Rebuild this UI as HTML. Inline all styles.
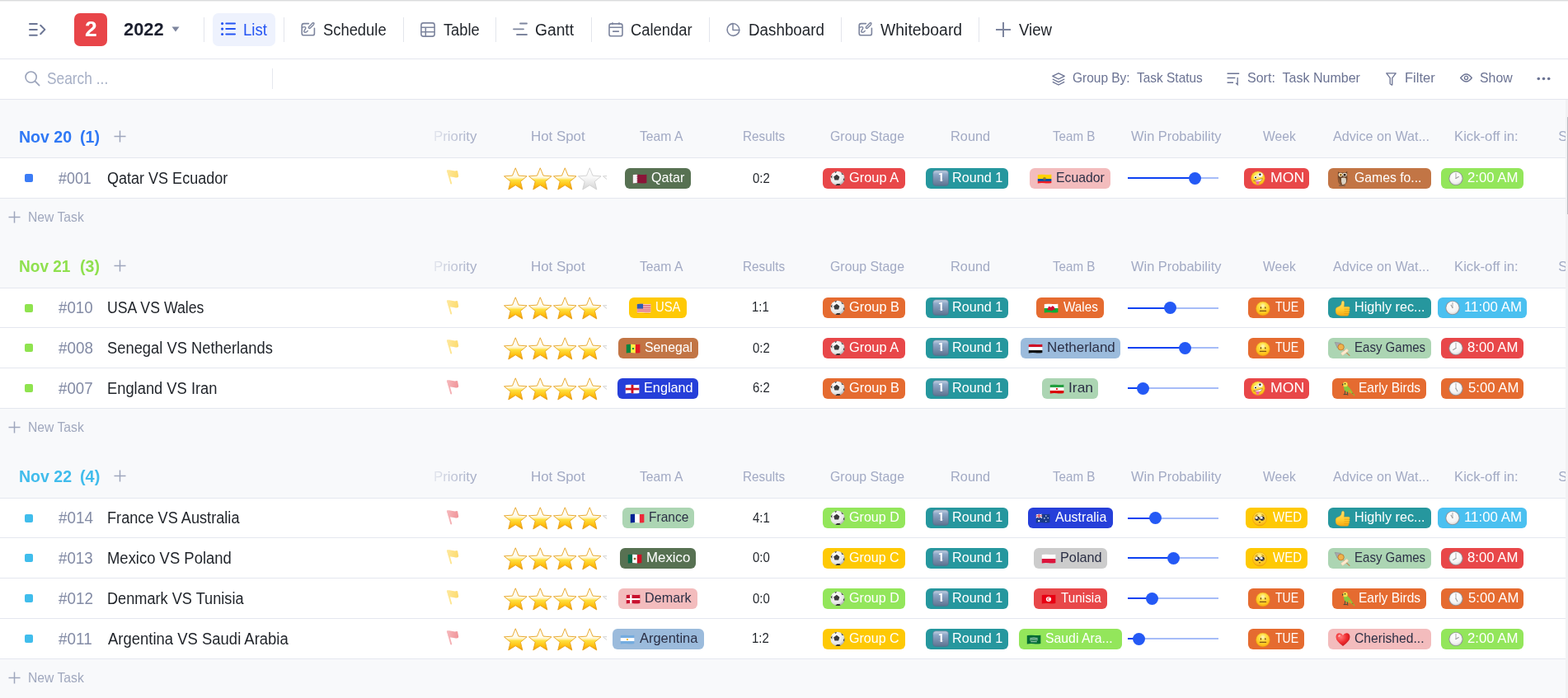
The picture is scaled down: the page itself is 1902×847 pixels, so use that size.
<!DOCTYPE html><html lang="en"><head><meta charset="utf-8"><title>2022 - List</title>
<style>
*{box-sizing:border-box;margin:0;padding:0}
html,body{width:1902px;height:847px;overflow:hidden;background:#f8f9fb;font-family:"Liberation Sans", "Noto Sans CJK SC", sans-serif;}
body{position:relative}
.abs{position:absolute}
svg{display:block}
#top{position:absolute;left:0;top:0;width:1902px;height:71px;background:#fff;}
#topline{position:absolute;left:0;top:0;width:1902px;height:2px;background:linear-gradient(#dadbdd 0,#dadbdd 50%,#f1f1f2 50%,#f1f1f2 100%);}
#navb{position:absolute;left:0;top:71px;width:1902px;height:1px;background:#e4e6ee}
#tool{position:absolute;left:0;top:72px;width:1902px;height:48px;background:#fff;}
#toolb{position:absolute;left:0;top:120px;width:1902px;height:1px;background:#e4e6ee}
.sep{position:absolute;top:21px;width:1px;height:30px;background:#e3e5ec}
.line{position:absolute;left:0;width:1899px;height:1px;background:#e4e7ef}
.row{position:absolute;left:0;width:1899px;background:#fff}
.sq{position:absolute;left:30px;width:10px;height:10px;border-radius:2px}
.pill{position:absolute;height:25px;border-radius:6px}
.pi{position:absolute;width:18px;height:18px}
.pi svg{overflow:visible}
.stars{position:absolute;left:611px;width:125px;height:28px;overflow:hidden}
.stars .st{position:absolute;top:0}
.trk{position:absolute;left:1368px;width:110px;height:2px;background:#a6bcf8}
.trka{position:absolute;left:1368px;height:2px;background:#0c41f2}
.thumb{position:absolute;width:15px;height:15px;border-radius:50%;background:#2459f5}
.fd{position:absolute;left:497px;width:82px;pointer-events:none}
.fh{background:linear-gradient(to right,rgba(248,249,251,1) 0%,rgba(248,249,251,0.85) 30%,rgba(248,249,251,0.4) 60%,rgba(248,249,251,0) 100%)}
.fr{background:linear-gradient(to right,rgba(255,255,255,1) 0%,rgba(255,255,255,0.85) 30%,rgba(255,255,255,0.4) 60%,rgba(255,255,255,0) 100%)}
#sb{position:absolute;left:1899px;top:121px;width:3px;height:726px;background:#f1f2f4}
#sbt{position:absolute;left:1900.5px;top:142px;width:1.5px;height:118px;background:#b9bbc0}
</style></head><body>
<div id="top">
<div id="topline"></div>
<svg class="abs" style="left:33px;top:26px" width="24" height="20" viewBox="0 0 24 20"><path d="M3,3.1 H11.8 M3,9.9 H11.8 M3,16.7 H11.8" stroke="#6b7594" stroke-width="2" stroke-linecap="round"/><path d="M16.2,4.8 L21.4,9.9 L16.2,15.2" stroke="#6b7594" stroke-width="2" fill="none" stroke-linecap="round" stroke-linejoin="round"/></svg>
<div class="abs" style="left:90px;top:16px;width:40px;height:40px;border-radius:7px;background:#e84549"></div>
<div style="position:absolute;left:102.67px;top:23.00px;font-size:25.58px;font-weight:bold;line-height:1;white-space:pre;transform-origin:0 0;transform:scaleX(1.0343);color:#fff;">2</div>
<div style="position:absolute;left:150.23px;top:25.00px;font-size:22.38px;font-weight:bold;line-height:1;white-space:pre;transform-origin:0 0;transform:scaleX(0.9778);color:#1b1f2e;">2022</div>
<svg class="abs" style="left:208px;top:32px" width="10" height="7" viewBox="0 0 10 7"><path d="M0.5,0.5 H9.5 L5,6.5 Z" fill="#7d859e"/></svg>
<div class="sep" style="left:247px"></div>
<div class="sep" style="left:344px"></div>
<div class="sep" style="left:489px"></div>
<div class="sep" style="left:601px"></div>
<div class="sep" style="left:717px"></div>
<div class="sep" style="left:860px"></div>
<div class="sep" style="left:1020px"></div>
<div class="sep" style="left:1187px"></div>
<div class="abs" style="left:258px;top:16px;width:76px;height:40px;border-radius:7px;background:#eef2fd"></div>
<div class="abs" style="left:268px;top:27px"><svg width="18" height="18" viewBox="0 0 18 18"><circle cx="1.6" cy="1.6" r="1.6" fill="#2454f3"/><circle cx="1.6" cy="8.1" r="1.6" fill="#2454f3"/><circle cx="1.6" cy="14.5" r="1.6" fill="#2454f3"/><path d="M6.3,1.6 H17 M6.3,8.1 H17 M6.3,14.5 H17" stroke="#2454f3" stroke-width="2" stroke-linecap="round"/></svg></div>
<div style="position:absolute;left:294.96px;top:27.00px;font-size:19.77px;line-height:1;white-space:pre;transform-origin:0 0;transform:scaleX(0.9427);color:#2454f3;">List</div>
<div class="abs" style="left:365px;top:27px"><svg width="18" height="18" viewBox="0 0 18 18"><path d="M9.4,1.6 H3.6 Q1.2,1.6 1.2,4 V13.4 Q1.2,15.8 3.6,15.8 H14.1 Q16.4,15.8 16.4,13.4 V7.2" stroke="#7d859e" stroke-width="1.6" fill="none" stroke-linecap="round"/><path d="M10.8,7.6 L15.2,3.2 Q16.4,1.6 15.6,0.9 Q14.9,0.3 13.6,1.4 L9.4,5.8 Q9,7.2 10.8,7.6 Z" stroke="#7d859e" stroke-width="1.4" fill="none"/><path d="M1.4,6.6 Q4.5,4.8 5.6,6.2 Q6.4,7.6 4.2,9.8 Q2.8,12 5,12.3 Q6.9,12.3 8.3,10.4" stroke="#7d859e" stroke-width="1.4" fill="none" stroke-linecap="round"/></svg></div>
<div style="position:absolute;left:392.47px;top:27.00px;font-size:19.77px;line-height:1;white-space:pre;transform-origin:0 0;transform:scaleX(0.9294);color:#1f2329;">Schedule</div>
<div class="abs" style="left:510px;top:27px"><svg width="18" height="18" viewBox="0 0 18 18"><rect x="0.9" y="0.9" width="16.2" height="16.2" rx="2.6" stroke="#7d859e" stroke-width="1.6" fill="none"/><path d="M0.9,6.3 H17.1 M0.9,11.7 H17.1 M6.3,6.3 V17.1" stroke="#7d859e" stroke-width="1.6"/></svg></div>
<div style="position:absolute;left:537.79px;top:27.00px;font-size:19.77px;line-height:1;white-space:pre;transform-origin:0 0;transform:scaleX(0.9226);color:#1f2329;">Table</div>
<div class="abs" style="left:622px;top:27px"><svg width="18" height="18" viewBox="0 0 18 18"><path d="M9,1.5 H17 M1,8.3 H13 M5,15 H17" stroke="#7d859e" stroke-width="1.8" stroke-linecap="round"/></svg></div>
<div style="position:absolute;left:649.44px;top:27.00px;font-size:19.77px;line-height:1;white-space:pre;transform-origin:0 0;transform:scaleX(0.9726);color:#1f2329;">Gantt</div>
<div class="abs" style="left:738px;top:27px"><svg width="18" height="18" viewBox="0 0 18 18"><rect x="1" y="1.9" width="16" height="14.9" rx="2.4" stroke="#7d859e" stroke-width="1.6" fill="none"/><path d="M1,6.3 H17 M5.1,11.1 H12.9 M5,0.3 V3 M13,0.3 V3" stroke="#7d859e" stroke-width="1.6"/></svg></div>
<div style="position:absolute;left:764.88px;top:27.00px;font-size:19.77px;line-height:1;white-space:pre;transform-origin:0 0;transform:scaleX(0.9288);color:#1f2329;">Calendar</div>
<div class="abs" style="left:881px;top:27px"><svg width="18" height="18" viewBox="0 0 18 18"><path d="M8,1.6 A7.4,7.4 0 1 0 15.9,9.5" stroke="#7d859e" stroke-width="1.6" fill="none"/><path d="M8,1.6 V9.5 H15.9 A7.9,7.9 0 0 0 8,1.6 Z" stroke="#7d859e" stroke-width="1.5" fill="none" stroke-linejoin="round"/></svg></div>
<div style="position:absolute;left:907.65px;top:27.00px;font-size:19.77px;line-height:1;white-space:pre;transform-origin:0 0;transform:scaleX(0.9510);color:#1f2329;">Dashboard</div>
<div class="abs" style="left:1041px;top:27px"><svg width="18" height="18" viewBox="0 0 18 18"><path d="M9.4,1.6 H3.6 Q1.2,1.6 1.2,4 V13.4 Q1.2,15.8 3.6,15.8 H14.1 Q16.4,15.8 16.4,13.4 V7.2" stroke="#7d859e" stroke-width="1.6" fill="none" stroke-linecap="round"/><path d="M10.8,7.6 L15.2,3.2 Q16.4,1.6 15.6,0.9 Q14.9,0.3 13.6,1.4 L9.4,5.8 Q9,7.2 10.8,7.6 Z" stroke="#7d859e" stroke-width="1.4" fill="none"/><path d="M1.4,6.6 Q4.5,4.8 5.6,6.2 Q6.4,7.6 4.2,9.8 Q2.8,12 5,12.3 Q6.9,12.3 8.3,10.4" stroke="#7d859e" stroke-width="1.4" fill="none" stroke-linecap="round"/></svg></div>
<div style="position:absolute;left:1068.20px;top:27.00px;font-size:19.77px;line-height:1;white-space:pre;transform-origin:0 0;transform:scaleX(0.9807);color:#1f2329;">Whiteboard</div>
<div class="abs" style="left:1208px;top:27px"><svg width="18" height="18" viewBox="0 0 18 18"><path d="M9,0 V18 M0,9 H18" stroke="#7d859e" stroke-width="2"/></svg></div>
<div style="position:absolute;left:1235.91px;top:27.00px;font-size:19.77px;line-height:1;white-space:pre;transform-origin:0 0;transform:scaleX(0.9423);color:#1f2329;">View</div>
</div>
<div id="navb"></div>
<div id="tool"></div>
<svg class="abs" style="left:30px;top:86px" width="19" height="19" viewBox="0 0 19 19"><circle cx="7.6" cy="7.6" r="6.6" stroke="#9aa3ba" stroke-width="1.6" fill="none"/><path d="M12.4,12.4 L17.6,17.6" stroke="#9aa3ba" stroke-width="1.7" stroke-linecap="round"/></svg>
<div style="position:absolute;left:57.42px;top:86.00px;font-size:19.48px;line-height:1;white-space:pre;transform-origin:0 0;transform:scaleX(0.8906);color:#a7b0c6;">Search ...</div>
<div class="abs" style="left:330px;top:83px;width:1px;height:25px;background:#e6e8ee"></div>
<svg class="abs" style="left:1276px;top:88px" width="16" height="16" viewBox="0 0 16 16"><path d="M8,0.8 L15.2,4.4 L8,8 L0.8,4.4 Z" stroke="#6b7393" stroke-width="1.3" fill="none" stroke-linejoin="round"/><path d="M0.8,8 L8,11.6 L15.2,8 M0.8,11.4 L8,15 L15.2,11.4" stroke="#6b7393" stroke-width="1.3" fill="none" stroke-linejoin="round"/></svg>
<div style="position:absolute;left:1300.63px;top:87.00px;font-size:15.99px;line-height:1;white-space:pre;transform-origin:0 0;transform:scaleX(0.9674);color:#6b7393;">Group By:  Task Status</div>
<svg class="abs" style="left:1488px;top:88px" width="16" height="16" viewBox="0 0 16 16"><path d="M0.6,1.2 H15.2 M0.6,6.6 H10.4 M0.6,12.2 H8" stroke="#6b7393" stroke-width="1.5"/><path d="M13.2,6 V14.6 L11.2,12.8" stroke="#6b7393" stroke-width="1.3" fill="none"/></svg>
<div style="position:absolute;left:1513.08px;top:87.00px;font-size:15.99px;line-height:1;white-space:pre;transform-origin:0 0;transform:scaleX(1.0031);color:#6b7393;">Sort:  Task Number</div>
<svg class="abs" style="left:1681px;top:87.5px" width="13" height="16" viewBox="0 0 13 16"><path d="M0.8,0.8 H12.2 L7.8,6.6 V14.6 Q7.8,15.4 7,15 L5.6,14 Q5.2,13.7 5.2,13.2 V6.6 Z" stroke="#6b7393" stroke-width="1.3" fill="none" stroke-linejoin="round"/></svg>
<div style="position:absolute;left:1704.24px;top:87.00px;font-size:15.99px;line-height:1;white-space:pre;transform-origin:0 0;transform:scaleX(1.0331);color:#6b7393;">Filter</div>
<svg class="abs" style="left:1771px;top:89px" width="15" height="11" viewBox="0 0 15 11"><path d="M0.7,5.5 Q7.5,-3.5 14.3,5.5 Q7.5,14.5 0.7,5.5 Z" stroke="#6b7393" stroke-width="1.3" fill="none"/><circle cx="7.5" cy="5.5" r="2.1" stroke="#6b7393" stroke-width="1.3" fill="none"/></svg>
<div style="position:absolute;left:1795.29px;top:87.00px;font-size:15.99px;line-height:1;white-space:pre;transform-origin:0 0;transform:scaleX(0.9916);color:#6b7393;">Show</div>
<svg class="abs" style="left:1864px;top:93px" width="17" height="5" viewBox="0 0 17 5"><circle cx="2.3" cy="2.5" r="1.8" fill="#6b7393"/><circle cx="8.5" cy="2.5" r="1.8" fill="#6b7393"/><circle cx="14.7" cy="2.5" r="1.8" fill="#6b7393"/></svg>
<div id="toolb"></div>
<div style="position:absolute;left:22.78px;top:156.00px;font-size:20.35px;font-weight:bold;line-height:1;white-space:pre;transform-origin:0 0;transform:scaleX(0.9596);color:#2f78f5;">Nov 20</div>
<div style="position:absolute;left:96.62px;top:156.00px;font-size:20.35px;font-weight:bold;line-height:1;white-space:pre;transform-origin:0 0;transform:scaleX(0.9675);color:#2f78f5;">(1)</div>
<div class="abs" style="left:138px;top:158.4px"><svg width="15" height="15" viewBox="0 0 15 15"><path d="M7.5,0.5 V14.5 M0.5,7.5 H14.5" stroke="#9ea6bd" stroke-width="1.5"/></svg></div>
<div style="position:absolute;left:525.61px;top:157.00px;font-size:16.28px;line-height:1;white-space:pre;transform-origin:0 0;transform:scaleX(1.0348);color:#a2aac4;">Priority</div>
<div style="position:absolute;left:643.71px;top:157.00px;font-size:16.28px;line-height:1;white-space:pre;transform-origin:0 0;transform:scaleX(1.0378);color:#a2aac4;">Hot Spot</div>
<div style="position:absolute;left:775.55px;top:157.00px;font-size:16.28px;line-height:1;white-space:pre;transform-origin:0 0;transform:scaleX(0.9669);color:#a2aac4;">Team A</div>
<div style="position:absolute;left:901.44px;top:157.00px;font-size:16.28px;line-height:1;white-space:pre;transform-origin:0 0;transform:scaleX(0.9412);color:#a2aac4;">Results</div>
<div style="position:absolute;left:1007.01px;top:157.00px;font-size:16.28px;line-height:1;white-space:pre;transform-origin:0 0;transform:scaleX(0.9758);color:#a2aac4;">Group Stage</div>
<div style="position:absolute;left:1152.65px;top:157.00px;font-size:16.28px;line-height:1;white-space:pre;transform-origin:0 0;transform:scaleX(1.0048);color:#a2aac4;">Round</div>
<div style="position:absolute;left:1276.66px;top:157.00px;font-size:16.28px;line-height:1;white-space:pre;transform-origin:0 0;transform:scaleX(0.9321);color:#a2aac4;">Team B</div>
<div style="position:absolute;left:1372.12px;top:157.00px;font-size:16.28px;line-height:1;white-space:pre;transform-origin:0 0;transform:scaleX(1.0087);color:#a2aac4;">Win Probability</div>
<div style="position:absolute;left:1532.12px;top:157.00px;font-size:16.28px;line-height:1;white-space:pre;transform-origin:0 0;transform:scaleX(0.9630);color:#a2aac4;">Week</div>
<div style="position:absolute;left:1617.36px;top:157.00px;font-size:16.28px;line-height:1;white-space:pre;transform-origin:0 0;transform:scaleX(0.9932);color:#a2aac4;">Advice on Wat...</div>
<div style="position:absolute;left:1763.62px;top:157.00px;font-size:16.28px;line-height:1;white-space:pre;transform-origin:0 0;transform:scaleX(1.0262);color:#a2aac4;">Kick-off in:</div>
<div style="position:absolute;left:1890.27px;top:157.00px;font-size:16.28px;line-height:1;white-space:pre;transform-origin:0 0;color:#a2aac4;">Stadium</div>
<div class="fd fh" style="top:141px;height:50px"></div>
<div class="line" style="top:191px"></div>
<div class="row" style="top:192px;height:48px"></div>
<div class="line" style="top:240px"></div>
<div class="sq" style="top:211.0px;background:#3b7cf6"></div>
<div style="position:absolute;left:70.91px;top:207.00px;font-size:19.77px;line-height:1;white-space:pre;transform-origin:0 0;transform:scaleX(0.9045);color:#838ba5;">#001</div>
<div style="position:absolute;left:130.44px;top:207.00px;font-size:19.77px;line-height:1;white-space:pre;transform-origin:0 0;transform:scaleX(0.9116);color:#1f2329;">Qatar VS Ecuador</div>
<div class="abs" style="left:540.5px;top:206.0px"><svg width="17" height="19" viewBox="0 0 17 19" ><defs><linearGradient id="pf1" x1="0" y1="0" x2="1" y2="0.3"><stop offset="0" stop-color="#fdd448"/><stop offset="1" stop-color="#fcce38"/></linearGradient></defs><path d="M2,1.2 L6.2,16.6" stroke="#fdd448" stroke-width="1.9" stroke-linecap="round"/><path d="M0.8,1.1 Q1.6,0.2 4,0.3 Q7,0.7 9.5,1.3 Q11.6,1.6 13.1,1 Q13.9,0.9 14.1,1.8 L15.2,7.6 Q15.4,9.2 13.6,9.6 Q11.4,9.5 9.2,8.9 Q6.4,8.3 3.4,8.7 Z" fill="url(#pf1)"/></svg></div>
<div class="stars" style="top:202.5px"><span class="st" style="left:0.0px"><svg width="28.6" height="28" viewBox="0 0 28.6 28" ><defs><linearGradient id="sg2" x1="0" y1="0" x2="0" y2="1"><stop offset="0" stop-color="#ffffff"/><stop offset="0.40" stop-color="#fffcee"/><stop offset="0.47" stop-color="#fff2bc"/><stop offset="0.56" stop-color="#ffe03e"/><stop offset="0.8" stop-color="#ffc010"/><stop offset="1" stop-color="#ef950a"/></linearGradient></defs><polygon points="14.30,0.80 18.06,10.12 28.09,10.82 20.39,17.28 22.82,27.03 14.30,21.70 5.78,27.03 8.21,17.28 0.51,10.82 10.54,10.12" fill="url(#sg2)" stroke="#e6a21c" stroke-width="0.9" stroke-linejoin="round"/></svg></span><span class="st" style="left:29.9px"><svg width="28.6" height="28" viewBox="0 0 28.6 28" ><defs><linearGradient id="sg3" x1="0" y1="0" x2="0" y2="1"><stop offset="0" stop-color="#ffffff"/><stop offset="0.40" stop-color="#fffcee"/><stop offset="0.47" stop-color="#fff2bc"/><stop offset="0.56" stop-color="#ffe03e"/><stop offset="0.8" stop-color="#ffc010"/><stop offset="1" stop-color="#ef950a"/></linearGradient></defs><polygon points="14.30,0.80 18.06,10.12 28.09,10.82 20.39,17.28 22.82,27.03 14.30,21.70 5.78,27.03 8.21,17.28 0.51,10.82 10.54,10.12" fill="url(#sg3)" stroke="#e6a21c" stroke-width="0.9" stroke-linejoin="round"/></svg></span><span class="st" style="left:59.8px"><svg width="28.6" height="28" viewBox="0 0 28.6 28" ><defs><linearGradient id="sg4" x1="0" y1="0" x2="0" y2="1"><stop offset="0" stop-color="#ffffff"/><stop offset="0.40" stop-color="#fffcee"/><stop offset="0.47" stop-color="#fff2bc"/><stop offset="0.56" stop-color="#ffe03e"/><stop offset="0.8" stop-color="#ffc010"/><stop offset="1" stop-color="#ef950a"/></linearGradient></defs><polygon points="14.30,0.80 18.06,10.12 28.09,10.82 20.39,17.28 22.82,27.03 14.30,21.70 5.78,27.03 8.21,17.28 0.51,10.82 10.54,10.12" fill="url(#sg4)" stroke="#e6a21c" stroke-width="0.9" stroke-linejoin="round"/></svg></span><span class="st" style="left:89.7px"><svg width="28.6" height="28" viewBox="0 0 28.6 28" ><defs><linearGradient id="sg5" x1="0" y1="0" x2="0" y2="1"><stop offset="0" stop-color="#ffffff"/><stop offset="0.45" stop-color="#f8f8f8"/><stop offset="1" stop-color="#d4d4d4"/></linearGradient></defs><polygon points="14.30,0.80 18.06,10.12 28.09,10.82 20.39,17.28 22.82,27.03 14.30,21.70 5.78,27.03 8.21,17.28 0.51,10.82 10.54,10.12" fill="url(#sg5)" stroke="#cfcfcf" stroke-width="0.9" stroke-linejoin="round"/></svg></span><span class="st" style="left:119.6px"><svg width="28.6" height="28" viewBox="0 0 28.6 28" ><defs><linearGradient id="sg6" x1="0" y1="0" x2="0" y2="1"><stop offset="0" stop-color="#ffffff"/><stop offset="0.45" stop-color="#f8f8f8"/><stop offset="1" stop-color="#d4d4d4"/></linearGradient></defs><polygon points="14.30,0.80 18.06,10.12 28.09,10.82 20.39,17.28 22.82,27.03 14.30,21.70 5.78,27.03 8.21,17.28 0.51,10.82 10.54,10.12" fill="url(#sg6)" stroke="#cfcfcf" stroke-width="0.9" stroke-linejoin="round"/></svg></span></div>
<div class="pill" style="left:758px;top:204px;width:80px;background:#577152"></div><div class="pi" style="left:767px;top:207.5px"><svg width="18" height="18" viewBox="0 0 18 18"><defs><clipPath id="fl7"><path d="M0,0.9 Q4.3,-0.1 8.6,0.5 Q12.9,1.1 17.2,0.1 L17.2,10.6 Q12.9,11.6 8.6,11 Q4.3,10.4 0,11.5 Z"/></clipPath></defs><g transform="translate(0.4,3.3)"><g clip-path="url(#fl7)"><g transform="scale(0.9556,0.8846)"><rect x="0" y="0" width="18" height="13" fill="#8a1538"/><path d="M0,0 L5,0 L6.5,1 L5,2 L6.5,3 L5,4 L6.5,5 L5,6 L6.5,7 L5,8 L6.5,9 L5,10 L6.5,11 L5,12 L6.5,13 L0,13 Z" fill="#f4f4f4"/></g></g></g></svg></div><div style="position:absolute;left:790.43px;top:208.00px;font-size:15.99px;line-height:1;white-space:pre;transform-origin:0 0;transform:scaleX(1.0084);color:#fff;">Qatar</div>
<div style="position:absolute;left:912.65px;top:208.00px;font-size:16.13px;line-height:1;white-space:pre;transform-origin:0 0;transform:scaleX(0.9300);color:#1f2329;">0:2</div>
<div class="pill" style="left:998px;top:204px;width:100px;background:#e84749"></div><div class="pi" style="left:1007px;top:207.5px"><svg width="18" height="18" viewBox="0 0 18 18" ><defs><radialGradient id="sb8" cx="0.4" cy="0.35" r="0.7"><stop offset="0" stop-color="#ffffff"/><stop offset="0.7" stop-color="#e6e6e6"/><stop offset="1" stop-color="#a9a9a9"/></radialGradient></defs><g transform="translate(0,-0.6)"><circle cx="9" cy="9" r="8.6" fill="url(#sb8)"/><polygon points="7.8,4.4 11.4,7 10.1,11.2 5.5,11.2 4.2,7" fill="#3a3a3a"/><path d="M5.2,1.4 L8,0.5 L6.8,2.6 Z M13.2,1.6 L16.2,4.4 L14.5,4.6 Z M0.7,7.2 L2.4,5 L2.3,9.3 Z M17.4,7.8 L17.2,12 L15.8,10.6 Z M6.3,17.1 L8.6,15.6 L11.6,15.6 L12.6,17 Q9,18.3 6.3,17.1 Z" fill="#333"/></g></svg></div><div style="position:absolute;left:1030.38px;top:208.00px;font-size:15.99px;line-height:1;white-space:pre;transform-origin:0 0;transform:scaleX(1.0253);color:#fff;">Group A</div>
<div class="pill" style="left:1123px;top:204px;width:100px;background:#26979e"></div><div class="pi" style="left:1132px;top:207.5px"><svg width="18" height="18" viewBox="0 0 18 18" ><defs><linearGradient id="kc9" x1="0" y1="0" x2="0" y2="1"><stop offset="0" stop-color="#c6d3e3"/><stop offset="0.25" stop-color="#8fa8c8"/><stop offset="1" stop-color="#5d7390"/></linearGradient></defs><g transform="translate(0,-1)"><rect x="-0.4" y="-0.2" width="19" height="18.6" rx="3.6" fill="url(#kc9)" stroke="#56698a" stroke-width="0.5"/><clipPath id="kc9c"><rect x="0" y="0" width="18" height="11.2"/><rect x="8.7" y="0" width="2.4" height="15"/></clipPath><text x="9.4" y="13.4" text-anchor="middle" clip-path="url(#kc9c)" font-family="Noto Sans CJK SC, Liberation Sans, sans-serif" font-weight="bold" font-size="13.6" fill="#fff">1</text></g></svg></div><div style="position:absolute;left:1154.86px;top:208.00px;font-size:15.99px;line-height:1;white-space:pre;transform-origin:0 0;transform:scaleX(1.0161);color:#fff;">Round 1</div>
<div class="pill" style="left:1249px;top:204px;width:98px;background:#f3bcbd"></div><div class="pi" style="left:1258px;top:207.5px"><svg width="18" height="18" viewBox="0 0 18 18"><defs><clipPath id="fl10"><path d="M0,0.9 Q4.3,-0.1 8.6,0.5 Q12.9,1.1 17.2,0.1 L17.2,10.6 Q12.9,11.6 8.6,11 Q4.3,10.4 0,11.5 Z"/></clipPath></defs><g transform="translate(0.4,3.3)"><g clip-path="url(#fl10)"><g transform="scale(0.9556,0.8846)"><rect x="0" y="0" width="18" height="6.5" fill="#ffd100"/><rect x="0" y="6.5" width="18" height="3.25" fill="#034ea2"/><rect x="0" y="9.75" width="18" height="3.25" fill="#ed1c24"/><ellipse cx="9" cy="6.5" rx="2" ry="2.4" fill="#7a6a3a" opacity="0.8"/></g></g></g></svg></div><div style="position:absolute;left:1280.90px;top:208.00px;font-size:15.99px;line-height:1;white-space:pre;transform-origin:0 0;transform:scaleX(0.9880);color:#2b2f45;">Ecuador</div>
<div class="trk" style="top:215.0px"></div>
<div class="trka" style="top:215.0px;width:81.4px"></div>
<div class="thumb" style="left:1441.9px;top:208.8px"></div>
<div class="pill" style="left:1509px;top:204px;width:79px;background:#e84749"></div><div class="pi" style="left:1518px;top:207.5px"><svg width="18" height="18" viewBox="0 0 18 18" ><g transform="translate(-1,-1.1)"><defs><radialGradient id="fc11" cx="0.5" cy="0.3" r="0.75"><stop offset="0" stop-color="#fff6c2"/><stop offset="0.3" stop-color="#ffe04a"/><stop offset="0.75" stop-color="#ffc21c"/><stop offset="1" stop-color="#f29a0c"/></radialGradient></defs><circle cx="8.9" cy="9.4" r="8.4" fill="url(#fc11)" stroke="#e4960e" stroke-width="0.5"/><ellipse cx="5.8" cy="8.3" rx="1.8" ry="2.1" fill="#fff"/><circle cx="6" cy="8.7" r="1" fill="#222"/><ellipse cx="11.9" cy="5.4" rx="2.8" ry="2.7" fill="#fff" stroke="#c8c8c8" stroke-width="0.3"/><circle cx="11.4" cy="4.9" r="1.2" fill="#222"/><path d="M3.6,12.4 Q9,11.8 14.3,9.6 Q13,14.2 8.6,13.9 Z" fill="#fff" stroke="#7a4008" stroke-width="0.5"/><path d="M6.6,13.1 L10.4,12.9 L10.3,16.4 Q8.6,17.8 6.9,16.3 Z" fill="#f26aa8"/></g></svg></div><div style="position:absolute;left:1540.74px;top:208.00px;font-size:15.99px;line-height:1;white-space:pre;transform-origin:0 0;transform:scaleX(1.1052);color:#fff;">MON</div>
<div class="pill" style="left:1611px;top:204px;width:125px;background:#c27545"></div><div class="pi" style="left:1620px;top:207.5px"><svg width="18" height="18" viewBox="0 0 18 18" ><path d="M3,0.2 L5,1.4 L12,1.4 L14.2,-0.2 L14.3,5 Q14.8,9.5 13.8,12.8 Q12.6,16 9,16.6 Q5.4,16.6 3.8,13.4 Q2.4,10 2.8,5 Z" fill="#6b4428"/><path d="M7,8 Q10,6.8 12.6,8.2 Q13.6,11.6 12.2,14.6 Q10.4,16.4 8,16 Q6.4,12 7,8 Z" fill="#dcd2c2"/><path d="M2.9,7 Q5.2,8.6 6.6,12.4 Q7,15.2 5.8,16 Q3.6,14.6 3,11.6 Z" fill="#8a5530"/><ellipse cx="6.2" cy="4.1" rx="2.6" ry="2.3" fill="#efe7da"/><ellipse cx="11.2" cy="4.1" rx="2.6" ry="2.3" fill="#efe7da"/><circle cx="6.3" cy="4.2" r="1.45" fill="#e8a21c"/><circle cx="11.1" cy="4.2" r="1.45" fill="#3a2412"/><circle cx="6.3" cy="4.2" r="0.75" fill="#1a1a1a"/><circle cx="11.1" cy="4.2" r="0.75" fill="#111"/><path d="M8.1,5.6 L9.3,5.6 L8.7,7 Z" fill="#4a3a30"/><path d="M4.6,17.2 L11.4,17.2" stroke="#4d4d4d" stroke-width="0.9" stroke-linecap="round"/></svg></div><div style="position:absolute;left:1643.41px;top:208.00px;font-size:15.99px;line-height:1;white-space:pre;transform-origin:0 0;transform:scaleX(0.9865);color:#fff;">Games fo...</div>
<div class="pill" style="left:1748px;top:204px;width:100px;background:#93e65b"></div><div class="pi" style="left:1757px;top:207.5px"><svg width="18" height="18" viewBox="0 0 18 18" ><defs><radialGradient id="ck12" cx="0.45" cy="0.3" r="0.75"><stop offset="0" stop-color="#ffffff"/><stop offset="0.7" stop-color="#f3f3f3"/><stop offset="1" stop-color="#d2d2d2"/></radialGradient></defs><g transform="translate(0,-0.7)"><circle cx="9" cy="9.2" r="8.6" fill="#8e8e94"/><circle cx="9" cy="9.2" r="7.7" fill="url(#ck12)"/><line x1="9" y1="9.2" x2="9" y2="3" stroke="#a8a8a8" stroke-width="1" stroke-linecap="round"/><line x1="9" y1="9.2" x2="12.29" y2="7.30" stroke="#a0a0a0" stroke-width="1.2" stroke-linecap="round"/></g></svg></div><div style="position:absolute;left:1780.36px;top:208.00px;font-size:15.99px;line-height:1;white-space:pre;transform-origin:0 0;transform:scaleX(1.0492);color:#fff;">2:00 AM</div>
<div class="fd fr" style="top:192px;height:48px"></div>
<div class="abs" style="left:10px;top:256px"><svg width="15" height="15" viewBox="0 0 15 15"><path d="M7.5,0.5 V14.5 M0.5,7.5 H14.5" stroke="#9ea6bd" stroke-width="1.5"/></svg></div>
<div style="position:absolute;left:34.10px;top:255.00px;font-size:16.28px;line-height:1;white-space:pre;transform-origin:0 0;transform:scaleX(0.9660);color:#a0a8be;">New Task</div>
<div style="position:absolute;left:22.81px;top:313.00px;font-size:20.35px;font-weight:bold;line-height:1;white-space:pre;transform-origin:0 0;transform:scaleX(0.9358);color:#8fe04e;">Nov 21</div>
<div style="position:absolute;left:96.72px;top:313.00px;font-size:20.35px;font-weight:bold;line-height:1;white-space:pre;transform-origin:0 0;transform:scaleX(0.9632);color:#8fe04e;">(3)</div>
<div class="abs" style="left:138px;top:315.4px"><svg width="15" height="15" viewBox="0 0 15 15"><path d="M7.5,0.5 V14.5 M0.5,7.5 H14.5" stroke="#9ea6bd" stroke-width="1.5"/></svg></div>
<div style="position:absolute;left:525.61px;top:315.00px;font-size:16.28px;line-height:1;white-space:pre;transform-origin:0 0;transform:scaleX(1.0348);color:#a2aac4;">Priority</div>
<div style="position:absolute;left:643.71px;top:315.00px;font-size:16.28px;line-height:1;white-space:pre;transform-origin:0 0;transform:scaleX(1.0378);color:#a2aac4;">Hot Spot</div>
<div style="position:absolute;left:775.55px;top:315.00px;font-size:16.28px;line-height:1;white-space:pre;transform-origin:0 0;transform:scaleX(0.9669);color:#a2aac4;">Team A</div>
<div style="position:absolute;left:901.44px;top:315.00px;font-size:16.28px;line-height:1;white-space:pre;transform-origin:0 0;transform:scaleX(0.9412);color:#a2aac4;">Results</div>
<div style="position:absolute;left:1007.01px;top:315.00px;font-size:16.28px;line-height:1;white-space:pre;transform-origin:0 0;transform:scaleX(0.9758);color:#a2aac4;">Group Stage</div>
<div style="position:absolute;left:1152.65px;top:315.00px;font-size:16.28px;line-height:1;white-space:pre;transform-origin:0 0;transform:scaleX(1.0048);color:#a2aac4;">Round</div>
<div style="position:absolute;left:1276.66px;top:315.00px;font-size:16.28px;line-height:1;white-space:pre;transform-origin:0 0;transform:scaleX(0.9321);color:#a2aac4;">Team B</div>
<div style="position:absolute;left:1372.12px;top:315.00px;font-size:16.28px;line-height:1;white-space:pre;transform-origin:0 0;transform:scaleX(1.0087);color:#a2aac4;">Win Probability</div>
<div style="position:absolute;left:1532.12px;top:315.00px;font-size:16.28px;line-height:1;white-space:pre;transform-origin:0 0;transform:scaleX(0.9630);color:#a2aac4;">Week</div>
<div style="position:absolute;left:1617.36px;top:315.00px;font-size:16.28px;line-height:1;white-space:pre;transform-origin:0 0;transform:scaleX(0.9932);color:#a2aac4;">Advice on Wat...</div>
<div style="position:absolute;left:1763.62px;top:315.00px;font-size:16.28px;line-height:1;white-space:pre;transform-origin:0 0;transform:scaleX(1.0262);color:#a2aac4;">Kick-off in:</div>
<div style="position:absolute;left:1890.27px;top:315.00px;font-size:16.28px;line-height:1;white-space:pre;transform-origin:0 0;color:#a2aac4;">Stadium</div>
<div class="fd fh" style="top:299px;height:50px"></div>
<div class="line" style="top:349px"></div>
<div class="row" style="top:350px;height:47px"></div>
<div class="line" style="top:397px"></div>
<div class="sq" style="top:368.5px;background:#8fe34f"></div>
<div style="position:absolute;left:70.91px;top:364.00px;font-size:19.77px;line-height:1;white-space:pre;transform-origin:0 0;transform:scaleX(0.9468);color:#838ba5;">#010</div>
<div style="position:absolute;left:129.93px;top:364.00px;font-size:19.77px;line-height:1;white-space:pre;transform-origin:0 0;transform:scaleX(0.8962);color:#1f2329;">USA VS Wales</div>
<div class="abs" style="left:540.5px;top:363.5px"><svg width="17" height="19" viewBox="0 0 17 19" ><defs><linearGradient id="pf13" x1="0" y1="0" x2="1" y2="0.3"><stop offset="0" stop-color="#fdd448"/><stop offset="1" stop-color="#fcce38"/></linearGradient></defs><path d="M2,1.2 L6.2,16.6" stroke="#fdd448" stroke-width="1.9" stroke-linecap="round"/><path d="M0.8,1.1 Q1.6,0.2 4,0.3 Q7,0.7 9.5,1.3 Q11.6,1.6 13.1,1 Q13.9,0.9 14.1,1.8 L15.2,7.6 Q15.4,9.2 13.6,9.6 Q11.4,9.5 9.2,8.9 Q6.4,8.3 3.4,8.7 Z" fill="url(#pf13)"/></svg></div>
<div class="stars" style="top:360.0px"><span class="st" style="left:0.0px"><svg width="28.6" height="28" viewBox="0 0 28.6 28" ><defs><linearGradient id="sg14" x1="0" y1="0" x2="0" y2="1"><stop offset="0" stop-color="#ffffff"/><stop offset="0.40" stop-color="#fffcee"/><stop offset="0.47" stop-color="#fff2bc"/><stop offset="0.56" stop-color="#ffe03e"/><stop offset="0.8" stop-color="#ffc010"/><stop offset="1" stop-color="#ef950a"/></linearGradient></defs><polygon points="14.30,0.80 18.06,10.12 28.09,10.82 20.39,17.28 22.82,27.03 14.30,21.70 5.78,27.03 8.21,17.28 0.51,10.82 10.54,10.12" fill="url(#sg14)" stroke="#e6a21c" stroke-width="0.9" stroke-linejoin="round"/></svg></span><span class="st" style="left:29.9px"><svg width="28.6" height="28" viewBox="0 0 28.6 28" ><defs><linearGradient id="sg15" x1="0" y1="0" x2="0" y2="1"><stop offset="0" stop-color="#ffffff"/><stop offset="0.40" stop-color="#fffcee"/><stop offset="0.47" stop-color="#fff2bc"/><stop offset="0.56" stop-color="#ffe03e"/><stop offset="0.8" stop-color="#ffc010"/><stop offset="1" stop-color="#ef950a"/></linearGradient></defs><polygon points="14.30,0.80 18.06,10.12 28.09,10.82 20.39,17.28 22.82,27.03 14.30,21.70 5.78,27.03 8.21,17.28 0.51,10.82 10.54,10.12" fill="url(#sg15)" stroke="#e6a21c" stroke-width="0.9" stroke-linejoin="round"/></svg></span><span class="st" style="left:59.8px"><svg width="28.6" height="28" viewBox="0 0 28.6 28" ><defs><linearGradient id="sg16" x1="0" y1="0" x2="0" y2="1"><stop offset="0" stop-color="#ffffff"/><stop offset="0.40" stop-color="#fffcee"/><stop offset="0.47" stop-color="#fff2bc"/><stop offset="0.56" stop-color="#ffe03e"/><stop offset="0.8" stop-color="#ffc010"/><stop offset="1" stop-color="#ef950a"/></linearGradient></defs><polygon points="14.30,0.80 18.06,10.12 28.09,10.82 20.39,17.28 22.82,27.03 14.30,21.70 5.78,27.03 8.21,17.28 0.51,10.82 10.54,10.12" fill="url(#sg16)" stroke="#e6a21c" stroke-width="0.9" stroke-linejoin="round"/></svg></span><span class="st" style="left:89.7px"><svg width="28.6" height="28" viewBox="0 0 28.6 28" ><defs><linearGradient id="sg17" x1="0" y1="0" x2="0" y2="1"><stop offset="0" stop-color="#ffffff"/><stop offset="0.40" stop-color="#fffcee"/><stop offset="0.47" stop-color="#fff2bc"/><stop offset="0.56" stop-color="#ffe03e"/><stop offset="0.8" stop-color="#ffc010"/><stop offset="1" stop-color="#ef950a"/></linearGradient></defs><polygon points="14.30,0.80 18.06,10.12 28.09,10.82 20.39,17.28 22.82,27.03 14.30,21.70 5.78,27.03 8.21,17.28 0.51,10.82 10.54,10.12" fill="url(#sg17)" stroke="#e6a21c" stroke-width="0.9" stroke-linejoin="round"/></svg></span><span class="st" style="left:119.6px"><svg width="28.6" height="28" viewBox="0 0 28.6 28" ><defs><linearGradient id="sg18" x1="0" y1="0" x2="0" y2="1"><stop offset="0" stop-color="#ffffff"/><stop offset="0.45" stop-color="#f8f8f8"/><stop offset="1" stop-color="#d4d4d4"/></linearGradient></defs><polygon points="14.30,0.80 18.06,10.12 28.09,10.82 20.39,17.28 22.82,27.03 14.30,21.70 5.78,27.03 8.21,17.28 0.51,10.82 10.54,10.12" fill="url(#sg18)" stroke="#cfcfcf" stroke-width="0.9" stroke-linejoin="round"/></svg></span></div>
<div class="pill" style="left:763px;top:361px;width:70px;background:#fec904"></div><div class="pi" style="left:772px;top:364.5px"><svg width="18" height="18" viewBox="0 0 18 18"><defs><clipPath id="fl19"><path d="M0,0.9 Q4.3,-0.1 8.6,0.5 Q12.9,1.1 17.2,0.1 L17.2,10.6 Q12.9,11.6 8.6,11 Q4.3,10.4 0,11.5 Z"/></clipPath></defs><g transform="translate(0.4,3.3)"><g clip-path="url(#fl19)"><g transform="scale(0.9556,0.8846)"><rect x="0" y="0" width="18" height="13" fill="#ffffff"/><rect x="0" y="0.0" width="18" height="1.0" fill="#d42a36"/><rect x="0" y="2.0" width="18" height="1.0" fill="#d42a36"/><rect x="0" y="4.0" width="18" height="1.0" fill="#d42a36"/><rect x="0" y="6.0" width="18" height="1.0" fill="#d42a36"/><rect x="0" y="8.0" width="18" height="1.0" fill="#d42a36"/><rect x="0" y="10.0" width="18" height="1.0" fill="#d42a36"/><rect x="0" y="12.0" width="18" height="1.0" fill="#d42a36"/><rect x="0" y="0" width="8" height="7" fill="#2d5db5"/></g></g></g></svg></div><div style="position:absolute;left:795.05px;top:365.00px;font-size:15.99px;line-height:1;white-space:pre;transform-origin:0 0;transform:scaleX(0.9267);color:#fff;">USA</div>
<div style="position:absolute;left:912.12px;top:364.00px;font-size:16.13px;line-height:1;white-space:pre;transform-origin:0 0;transform:scaleX(0.9300);color:#1f2329;">1:1</div>
<div class="pill" style="left:998px;top:361px;width:100px;background:#e56b30"></div><div class="pi" style="left:1007px;top:364.5px"><svg width="18" height="18" viewBox="0 0 18 18" ><defs><radialGradient id="sb20" cx="0.4" cy="0.35" r="0.7"><stop offset="0" stop-color="#ffffff"/><stop offset="0.7" stop-color="#e6e6e6"/><stop offset="1" stop-color="#a9a9a9"/></radialGradient></defs><g transform="translate(0,-0.6)"><circle cx="9" cy="9" r="8.6" fill="url(#sb20)"/><polygon points="7.8,4.4 11.4,7 10.1,11.2 5.5,11.2 4.2,7" fill="#3a3a3a"/><path d="M5.2,1.4 L8,0.5 L6.8,2.6 Z M13.2,1.6 L16.2,4.4 L14.5,4.6 Z M0.7,7.2 L2.4,5 L2.3,9.3 Z M17.4,7.8 L17.2,12 L15.8,10.6 Z M6.3,17.1 L8.6,15.6 L11.6,15.6 L12.6,17 Q9,18.3 6.3,17.1 Z" fill="#333"/></g></svg></div><div style="position:absolute;left:1030.38px;top:365.00px;font-size:15.99px;line-height:1;white-space:pre;transform-origin:0 0;transform:scaleX(1.0239);color:#fff;">Group B</div>
<div class="pill" style="left:1123px;top:361px;width:100px;background:#26979e"></div><div class="pi" style="left:1132px;top:364.5px"><svg width="18" height="18" viewBox="0 0 18 18" ><defs><linearGradient id="kc21" x1="0" y1="0" x2="0" y2="1"><stop offset="0" stop-color="#c6d3e3"/><stop offset="0.25" stop-color="#8fa8c8"/><stop offset="1" stop-color="#5d7390"/></linearGradient></defs><g transform="translate(0,-1)"><rect x="-0.4" y="-0.2" width="19" height="18.6" rx="3.6" fill="url(#kc21)" stroke="#56698a" stroke-width="0.5"/><clipPath id="kc21c"><rect x="0" y="0" width="18" height="11.2"/><rect x="8.7" y="0" width="2.4" height="15"/></clipPath><text x="9.4" y="13.4" text-anchor="middle" clip-path="url(#kc21c)" font-family="Noto Sans CJK SC, Liberation Sans, sans-serif" font-weight="bold" font-size="13.6" fill="#fff">1</text></g></svg></div><div style="position:absolute;left:1154.86px;top:365.00px;font-size:15.99px;line-height:1;white-space:pre;transform-origin:0 0;transform:scaleX(1.0161);color:#fff;">Round 1</div>
<div class="pill" style="left:1257px;top:361px;width:82px;background:#e56b30"></div><div class="pi" style="left:1266px;top:364.5px"><svg width="18" height="18" viewBox="0 0 18 18"><defs><clipPath id="fl22"><path d="M0,0.9 Q4.3,-0.1 8.6,0.5 Q12.9,1.1 17.2,0.1 L17.2,10.6 Q12.9,11.6 8.6,11 Q4.3,10.4 0,11.5 Z"/></clipPath></defs><g transform="translate(0.4,3.3)"><g clip-path="url(#fl22)"><g transform="scale(0.9556,0.8846)"><rect x="0" y="0" width="18" height="6.5" fill="#ffffff"/><rect x="0" y="6.5" width="18" height="6.5" fill="#00ad36"/><path d="M4,9 L6,4 L9,5 L11,3 L13,5 L14,9 L12,8 L10,10 L7,9 Z" fill="#d30731"/></g></g></g></svg></div><div style="position:absolute;left:1290.12px;top:365.00px;font-size:15.99px;line-height:1;white-space:pre;transform-origin:0 0;transform:scaleX(0.9558);color:#fff;">Wales</div>
<div class="trk" style="top:372.5px"></div>
<div class="trka" style="top:372.5px;width:51.4px"></div>
<div class="thumb" style="left:1411.9px;top:366.3px"></div>
<div class="pill" style="left:1514px;top:361px;width:68px;background:#e56b30"></div><div class="pi" style="left:1523px;top:364.5px"><svg width="18" height="18" viewBox="0 0 18 18" ><g transform="translate(0,0.1)"><defs><radialGradient id="fc23" cx="0.5" cy="0.3" r="0.75"><stop offset="0" stop-color="#fff6c2"/><stop offset="0.3" stop-color="#ffe04a"/><stop offset="0.75" stop-color="#ffc21c"/><stop offset="1" stop-color="#f29a0c"/></radialGradient></defs><circle cx="8.9" cy="9.4" r="8.4" fill="url(#fc23)" stroke="#e4960e" stroke-width="0.5"/><path d="M6.2,6.9 Q7.2,7 7.1,8.6 Q6.9,9.7 6.1,9.4 Q5.6,8.2 6.2,6.9 Z" fill="#5a2e0c"/><path d="M11.6,6.9 Q12.6,7 12.5,8.6 Q12.3,9.7 11.5,9.4 Q11,8.2 11.6,6.9 Z" fill="#5a2e0c"/><rect x="4.8" y="11.6" width="8.4" height="1.1" rx="0.5" fill="#5a2e0c"/></g></svg></div><div style="position:absolute;left:1546.88px;top:365.00px;font-size:15.99px;line-height:1;white-space:pre;transform-origin:0 0;transform:scaleX(0.8824);color:#fff;">TUE</div>
<div class="pill" style="left:1611px;top:361px;width:125px;background:#26979e"></div><div class="pi" style="left:1620px;top:364.5px"><svg width="18" height="19" viewBox="0 0 18 19" ><defs><linearGradient id="th24" x1="0" y1="0" x2="0" y2="1"><stop offset="0" stop-color="#ffe070"/><stop offset="0.6" stop-color="#ffcc2e"/><stop offset="1" stop-color="#f5a814"/></linearGradient></defs><path d="M0.2,10.2 Q0.4,8 2.9,7.5 Q5.4,6.9 6.9,4.6 L7.5,1.3 Q8.1,-0.1 9.5,0.3 Q10.8,0.8 10.6,2.9 L10.3,7.2 L15.6,7.2 Q17.4,7.4 17.3,8.8 Q17.2,9.9 16.3,10.1 Q17.3,10.5 17.2,11.8 Q17,12.8 16.1,12.9 Q17,13.4 16.8,14.6 Q16.5,15.5 15.6,15.6 Q16.2,16.2 15.8,17.2 Q15.3,18.2 14,18.2 L7.5,18.3 Q5.5,18.4 3.8,17.5 Q0.3,16.6 0.2,13 Z" fill="url(#th24)" stroke="#e8a010" stroke-width="0.4"/><path d="M10.6,10.1 H16.2 M10.5,12.9 H16 M10.4,15.6 H15.5" stroke="#e39a0e" stroke-width="0.7"/></svg></div><div style="position:absolute;left:1642.86px;top:365.00px;font-size:15.99px;line-height:1;white-space:pre;transform-origin:0 0;transform:scaleX(1.0140);color:#fff;">Highly rec...</div>
<div class="pill" style="left:1744px;top:361px;width:108px;background:#4ac0f0"></div><div class="pi" style="left:1753px;top:364.5px"><svg width="18" height="18" viewBox="0 0 18 18" ><defs><radialGradient id="ck25" cx="0.45" cy="0.3" r="0.75"><stop offset="0" stop-color="#ffffff"/><stop offset="0.7" stop-color="#f3f3f3"/><stop offset="1" stop-color="#d2d2d2"/></radialGradient></defs><g transform="translate(0,-0.7)"><circle cx="9" cy="9.2" r="8.6" fill="#8e8e94"/><circle cx="9" cy="9.2" r="7.7" fill="url(#ck25)"/><line x1="9" y1="9.2" x2="9" y2="3" stroke="#a8a8a8" stroke-width="1" stroke-linecap="round"/><line x1="9" y1="9.2" x2="7.10" y2="5.91" stroke="#a0a0a0" stroke-width="1.2" stroke-linecap="round"/></g></svg></div><div style="position:absolute;left:1775.94px;top:365.00px;font-size:15.99px;line-height:1;white-space:pre;transform-origin:0 0;transform:scaleX(1.0543);color:#fff;">11:00 AM</div>
<div class="fd fr" style="top:350px;height:47px"></div>
<div class="row" style="top:398px;height:48px"></div>
<div class="line" style="top:446px"></div>
<div class="sq" style="top:417.0px;background:#8fe34f"></div>
<div style="position:absolute;left:70.91px;top:413.00px;font-size:19.77px;line-height:1;white-space:pre;transform-origin:0 0;transform:scaleX(0.9536);color:#838ba5;">#008</div>
<div style="position:absolute;left:130.47px;top:413.00px;font-size:19.77px;line-height:1;white-space:pre;transform-origin:0 0;transform:scaleX(0.9278);color:#1f2329;">Senegal VS Netherlands</div>
<div class="abs" style="left:540.5px;top:412.0px"><svg width="17" height="19" viewBox="0 0 17 19" ><defs><linearGradient id="pf26" x1="0" y1="0" x2="1" y2="0.3"><stop offset="0" stop-color="#fdd448"/><stop offset="1" stop-color="#fcce38"/></linearGradient></defs><path d="M2,1.2 L6.2,16.6" stroke="#fdd448" stroke-width="1.9" stroke-linecap="round"/><path d="M0.8,1.1 Q1.6,0.2 4,0.3 Q7,0.7 9.5,1.3 Q11.6,1.6 13.1,1 Q13.9,0.9 14.1,1.8 L15.2,7.6 Q15.4,9.2 13.6,9.6 Q11.4,9.5 9.2,8.9 Q6.4,8.3 3.4,8.7 Z" fill="url(#pf26)"/></svg></div>
<div class="stars" style="top:408.5px"><span class="st" style="left:0.0px"><svg width="28.6" height="28" viewBox="0 0 28.6 28" ><defs><linearGradient id="sg27" x1="0" y1="0" x2="0" y2="1"><stop offset="0" stop-color="#ffffff"/><stop offset="0.40" stop-color="#fffcee"/><stop offset="0.47" stop-color="#fff2bc"/><stop offset="0.56" stop-color="#ffe03e"/><stop offset="0.8" stop-color="#ffc010"/><stop offset="1" stop-color="#ef950a"/></linearGradient></defs><polygon points="14.30,0.80 18.06,10.12 28.09,10.82 20.39,17.28 22.82,27.03 14.30,21.70 5.78,27.03 8.21,17.28 0.51,10.82 10.54,10.12" fill="url(#sg27)" stroke="#e6a21c" stroke-width="0.9" stroke-linejoin="round"/></svg></span><span class="st" style="left:29.9px"><svg width="28.6" height="28" viewBox="0 0 28.6 28" ><defs><linearGradient id="sg28" x1="0" y1="0" x2="0" y2="1"><stop offset="0" stop-color="#ffffff"/><stop offset="0.40" stop-color="#fffcee"/><stop offset="0.47" stop-color="#fff2bc"/><stop offset="0.56" stop-color="#ffe03e"/><stop offset="0.8" stop-color="#ffc010"/><stop offset="1" stop-color="#ef950a"/></linearGradient></defs><polygon points="14.30,0.80 18.06,10.12 28.09,10.82 20.39,17.28 22.82,27.03 14.30,21.70 5.78,27.03 8.21,17.28 0.51,10.82 10.54,10.12" fill="url(#sg28)" stroke="#e6a21c" stroke-width="0.9" stroke-linejoin="round"/></svg></span><span class="st" style="left:59.8px"><svg width="28.6" height="28" viewBox="0 0 28.6 28" ><defs><linearGradient id="sg29" x1="0" y1="0" x2="0" y2="1"><stop offset="0" stop-color="#ffffff"/><stop offset="0.40" stop-color="#fffcee"/><stop offset="0.47" stop-color="#fff2bc"/><stop offset="0.56" stop-color="#ffe03e"/><stop offset="0.8" stop-color="#ffc010"/><stop offset="1" stop-color="#ef950a"/></linearGradient></defs><polygon points="14.30,0.80 18.06,10.12 28.09,10.82 20.39,17.28 22.82,27.03 14.30,21.70 5.78,27.03 8.21,17.28 0.51,10.82 10.54,10.12" fill="url(#sg29)" stroke="#e6a21c" stroke-width="0.9" stroke-linejoin="round"/></svg></span><span class="st" style="left:89.7px"><svg width="28.6" height="28" viewBox="0 0 28.6 28" ><defs><linearGradient id="sg30" x1="0" y1="0" x2="0" y2="1"><stop offset="0" stop-color="#ffffff"/><stop offset="0.40" stop-color="#fffcee"/><stop offset="0.47" stop-color="#fff2bc"/><stop offset="0.56" stop-color="#ffe03e"/><stop offset="0.8" stop-color="#ffc010"/><stop offset="1" stop-color="#ef950a"/></linearGradient></defs><polygon points="14.30,0.80 18.06,10.12 28.09,10.82 20.39,17.28 22.82,27.03 14.30,21.70 5.78,27.03 8.21,17.28 0.51,10.82 10.54,10.12" fill="url(#sg30)" stroke="#e6a21c" stroke-width="0.9" stroke-linejoin="round"/></svg></span><span class="st" style="left:119.6px"><svg width="28.6" height="28" viewBox="0 0 28.6 28" ><defs><linearGradient id="sg31" x1="0" y1="0" x2="0" y2="1"><stop offset="0" stop-color="#ffffff"/><stop offset="0.45" stop-color="#f8f8f8"/><stop offset="1" stop-color="#d4d4d4"/></linearGradient></defs><polygon points="14.30,0.80 18.06,10.12 28.09,10.82 20.39,17.28 22.82,27.03 14.30,21.70 5.78,27.03 8.21,17.28 0.51,10.82 10.54,10.12" fill="url(#sg31)" stroke="#cfcfcf" stroke-width="0.9" stroke-linejoin="round"/></svg></span></div>
<div class="pill" style="left:750px;top:410px;width:97px;background:#c27545"></div><div class="pi" style="left:759px;top:413.5px"><svg width="18" height="18" viewBox="0 0 18 18"><defs><clipPath id="fl32"><path d="M0,0.9 Q4.3,-0.1 8.6,0.5 Q12.9,1.1 17.2,0.1 L17.2,10.6 Q12.9,11.6 8.6,11 Q4.3,10.4 0,11.5 Z"/></clipPath></defs><g transform="translate(0.4,3.3)"><g clip-path="url(#fl32)"><g transform="scale(0.9556,0.8846)"><rect x="0" y="0" width="6" height="13" fill="#00853f"/><rect x="6" y="0" width="6" height="13" fill="#fdef42"/><rect x="12" y="0" width="6" height="13" fill="#e31b23"/><circle cx="9" cy="6.5" r="1.3" fill="#00853f"/></g></g></g></svg></div><div style="position:absolute;left:782.49px;top:414.00px;font-size:15.99px;line-height:1;white-space:pre;transform-origin:0 0;transform:scaleX(0.9898);color:#fff;">Senegal</div>
<div style="position:absolute;left:912.65px;top:414.00px;font-size:16.13px;line-height:1;white-space:pre;transform-origin:0 0;transform:scaleX(0.9300);color:#1f2329;">0:2</div>
<div class="pill" style="left:998px;top:410px;width:100px;background:#e84749"></div><div class="pi" style="left:1007px;top:413.5px"><svg width="18" height="18" viewBox="0 0 18 18" ><defs><radialGradient id="sb33" cx="0.4" cy="0.35" r="0.7"><stop offset="0" stop-color="#ffffff"/><stop offset="0.7" stop-color="#e6e6e6"/><stop offset="1" stop-color="#a9a9a9"/></radialGradient></defs><g transform="translate(0,-0.6)"><circle cx="9" cy="9" r="8.6" fill="url(#sb33)"/><polygon points="7.8,4.4 11.4,7 10.1,11.2 5.5,11.2 4.2,7" fill="#3a3a3a"/><path d="M5.2,1.4 L8,0.5 L6.8,2.6 Z M13.2,1.6 L16.2,4.4 L14.5,4.6 Z M0.7,7.2 L2.4,5 L2.3,9.3 Z M17.4,7.8 L17.2,12 L15.8,10.6 Z M6.3,17.1 L8.6,15.6 L11.6,15.6 L12.6,17 Q9,18.3 6.3,17.1 Z" fill="#333"/></g></svg></div><div style="position:absolute;left:1030.38px;top:414.00px;font-size:15.99px;line-height:1;white-space:pre;transform-origin:0 0;transform:scaleX(1.0253);color:#fff;">Group A</div>
<div class="pill" style="left:1123px;top:410px;width:100px;background:#26979e"></div><div class="pi" style="left:1132px;top:413.5px"><svg width="18" height="18" viewBox="0 0 18 18" ><defs><linearGradient id="kc34" x1="0" y1="0" x2="0" y2="1"><stop offset="0" stop-color="#c6d3e3"/><stop offset="0.25" stop-color="#8fa8c8"/><stop offset="1" stop-color="#5d7390"/></linearGradient></defs><g transform="translate(0,-1)"><rect x="-0.4" y="-0.2" width="19" height="18.6" rx="3.6" fill="url(#kc34)" stroke="#56698a" stroke-width="0.5"/><clipPath id="kc34c"><rect x="0" y="0" width="18" height="11.2"/><rect x="8.7" y="0" width="2.4" height="15"/></clipPath><text x="9.4" y="13.4" text-anchor="middle" clip-path="url(#kc34c)" font-family="Noto Sans CJK SC, Liberation Sans, sans-serif" font-weight="bold" font-size="13.6" fill="#fff">1</text></g></svg></div><div style="position:absolute;left:1154.86px;top:414.00px;font-size:15.99px;line-height:1;white-space:pre;transform-origin:0 0;transform:scaleX(1.0161);color:#fff;">Round 1</div>
<div class="pill" style="left:1238px;top:410px;width:121px;background:#9bbbdc"></div><div class="pi" style="left:1247px;top:413.5px"><svg width="18" height="18" viewBox="0 0 18 18"><defs><clipPath id="fl35"><path d="M0,0.9 Q4.3,-0.1 8.6,0.5 Q12.9,1.1 17.2,0.1 L17.2,10.6 Q12.9,11.6 8.6,11 Q4.3,10.4 0,11.5 Z"/></clipPath></defs><g transform="translate(0.4,3.3)"><g clip-path="url(#fl35)"><g transform="scale(0.9556,0.8846)"><rect x="0" y="0" width="18" height="4.33" fill="#ce1126"/><rect x="0" y="4.33" width="18" height="4.34" fill="#ffffff"/><rect x="0" y="8.67" width="18" height="4.33" fill="#111111"/></g></g></g></svg></div><div style="position:absolute;left:1269.80px;top:414.00px;font-size:15.99px;line-height:1;white-space:pre;transform-origin:0 0;transform:scaleX(1.0585);color:#2b2f45;">Netherland</div>
<div class="trk" style="top:421.0px"></div>
<div class="trka" style="top:421.0px;width:69.6px"></div>
<div class="thumb" style="left:1430.1px;top:414.8px"></div>
<div class="pill" style="left:1514px;top:410px;width:68px;background:#e56b30"></div><div class="pi" style="left:1523px;top:413.5px"><svg width="18" height="18" viewBox="0 0 18 18" ><g transform="translate(0,0.1)"><defs><radialGradient id="fc36" cx="0.5" cy="0.3" r="0.75"><stop offset="0" stop-color="#fff6c2"/><stop offset="0.3" stop-color="#ffe04a"/><stop offset="0.75" stop-color="#ffc21c"/><stop offset="1" stop-color="#f29a0c"/></radialGradient></defs><circle cx="8.9" cy="9.4" r="8.4" fill="url(#fc36)" stroke="#e4960e" stroke-width="0.5"/><path d="M6.2,6.9 Q7.2,7 7.1,8.6 Q6.9,9.7 6.1,9.4 Q5.6,8.2 6.2,6.9 Z" fill="#5a2e0c"/><path d="M11.6,6.9 Q12.6,7 12.5,8.6 Q12.3,9.7 11.5,9.4 Q11,8.2 11.6,6.9 Z" fill="#5a2e0c"/><rect x="4.8" y="11.6" width="8.4" height="1.1" rx="0.5" fill="#5a2e0c"/></g></svg></div><div style="position:absolute;left:1546.88px;top:414.00px;font-size:15.99px;line-height:1;white-space:pre;transform-origin:0 0;transform:scaleX(0.8824);color:#fff;">TUE</div>
<div class="pill" style="left:1611px;top:410px;width:125px;background:#acd5b3"></div><div class="pi" style="left:1620px;top:413.5px"><svg width="18" height="18" viewBox="0 0 18 18" ><line x1="10" y1="11" x2="17" y2="17.3" stroke="#c08a50" stroke-width="1.1" stroke-linecap="round"/><path d="M-0.8,1.4 L6.5,2.3 L2.3,8.3 Z" fill="#a9a9ad" stroke="#808088" stroke-width="0.5" stroke-linejoin="round"/><circle cx="6.6" cy="7.2" r="3.7" fill="#f0b24a" stroke="#b86e2a" stroke-width="0.8"/><rect x="6.5" y="11.4" width="9.4" height="3.6" rx="0.8" transform="rotate(-38 11.2 13.2)" fill="#fde8cc" stroke="#e2c29a" stroke-width="0.4"/></svg></div><div style="position:absolute;left:1642.96px;top:414.00px;font-size:15.99px;line-height:1;white-space:pre;transform-origin:0 0;transform:scaleX(0.9403);color:#2b2f45;">Easy Games</div>
<div class="pill" style="left:1748px;top:410px;width:100px;background:#e84749"></div><div class="pi" style="left:1757px;top:413.5px"><svg width="18" height="18" viewBox="0 0 18 18" ><defs><radialGradient id="ck37" cx="0.45" cy="0.3" r="0.75"><stop offset="0" stop-color="#ffffff"/><stop offset="0.7" stop-color="#f3f3f3"/><stop offset="1" stop-color="#d2d2d2"/></radialGradient></defs><g transform="translate(0,-0.7)"><circle cx="9" cy="9.2" r="8.6" fill="#8e8e94"/><circle cx="9" cy="9.2" r="7.7" fill="url(#ck37)"/><line x1="9" y1="9.2" x2="9" y2="3" stroke="#a8a8a8" stroke-width="1" stroke-linecap="round"/><line x1="9" y1="9.2" x2="5.71" y2="11.10" stroke="#a0a0a0" stroke-width="1.2" stroke-linecap="round"/></g></svg></div><div style="position:absolute;left:1780.49px;top:414.00px;font-size:15.99px;line-height:1;white-space:pre;transform-origin:0 0;transform:scaleX(1.0470);color:#fff;">8:00 AM</div>
<div class="fd fr" style="top:398px;height:48px"></div>
<div class="row" style="top:447px;height:48px"></div>
<div class="line" style="top:495px"></div>
<div class="sq" style="top:466.0px;background:#8fe34f"></div>
<div style="position:absolute;left:70.91px;top:462.00px;font-size:19.77px;line-height:1;white-space:pre;transform-origin:0 0;transform:scaleX(0.9452);color:#838ba5;">#007</div>
<div style="position:absolute;left:129.79px;top:462.00px;font-size:19.77px;line-height:1;white-space:pre;transform-origin:0 0;transform:scaleX(0.9274);color:#1f2329;">England VS Iran</div>
<div class="abs" style="left:540.5px;top:461.0px"><svg width="17" height="19" viewBox="0 0 17 19" ><defs><linearGradient id="pf38" x1="0" y1="0" x2="1" y2="0.3"><stop offset="0" stop-color="#ee7c82"/><stop offset="1" stop-color="#eb6c73"/></linearGradient></defs><path d="M2,1.2 L6.2,16.6" stroke="#ee7c82" stroke-width="1.9" stroke-linecap="round"/><path d="M0.8,1.1 Q1.6,0.2 4,0.3 Q7,0.7 9.5,1.3 Q11.6,1.6 13.1,1 Q13.9,0.9 14.1,1.8 L15.2,7.6 Q15.4,9.2 13.6,9.6 Q11.4,9.5 9.2,8.9 Q6.4,8.3 3.4,8.7 Z" fill="url(#pf38)"/></svg></div>
<div class="stars" style="top:457.5px"><span class="st" style="left:0.0px"><svg width="28.6" height="28" viewBox="0 0 28.6 28" ><defs><linearGradient id="sg39" x1="0" y1="0" x2="0" y2="1"><stop offset="0" stop-color="#ffffff"/><stop offset="0.40" stop-color="#fffcee"/><stop offset="0.47" stop-color="#fff2bc"/><stop offset="0.56" stop-color="#ffe03e"/><stop offset="0.8" stop-color="#ffc010"/><stop offset="1" stop-color="#ef950a"/></linearGradient></defs><polygon points="14.30,0.80 18.06,10.12 28.09,10.82 20.39,17.28 22.82,27.03 14.30,21.70 5.78,27.03 8.21,17.28 0.51,10.82 10.54,10.12" fill="url(#sg39)" stroke="#e6a21c" stroke-width="0.9" stroke-linejoin="round"/></svg></span><span class="st" style="left:29.9px"><svg width="28.6" height="28" viewBox="0 0 28.6 28" ><defs><linearGradient id="sg40" x1="0" y1="0" x2="0" y2="1"><stop offset="0" stop-color="#ffffff"/><stop offset="0.40" stop-color="#fffcee"/><stop offset="0.47" stop-color="#fff2bc"/><stop offset="0.56" stop-color="#ffe03e"/><stop offset="0.8" stop-color="#ffc010"/><stop offset="1" stop-color="#ef950a"/></linearGradient></defs><polygon points="14.30,0.80 18.06,10.12 28.09,10.82 20.39,17.28 22.82,27.03 14.30,21.70 5.78,27.03 8.21,17.28 0.51,10.82 10.54,10.12" fill="url(#sg40)" stroke="#e6a21c" stroke-width="0.9" stroke-linejoin="round"/></svg></span><span class="st" style="left:59.8px"><svg width="28.6" height="28" viewBox="0 0 28.6 28" ><defs><linearGradient id="sg41" x1="0" y1="0" x2="0" y2="1"><stop offset="0" stop-color="#ffffff"/><stop offset="0.40" stop-color="#fffcee"/><stop offset="0.47" stop-color="#fff2bc"/><stop offset="0.56" stop-color="#ffe03e"/><stop offset="0.8" stop-color="#ffc010"/><stop offset="1" stop-color="#ef950a"/></linearGradient></defs><polygon points="14.30,0.80 18.06,10.12 28.09,10.82 20.39,17.28 22.82,27.03 14.30,21.70 5.78,27.03 8.21,17.28 0.51,10.82 10.54,10.12" fill="url(#sg41)" stroke="#e6a21c" stroke-width="0.9" stroke-linejoin="round"/></svg></span><span class="st" style="left:89.7px"><svg width="28.6" height="28" viewBox="0 0 28.6 28" ><defs><linearGradient id="sg42" x1="0" y1="0" x2="0" y2="1"><stop offset="0" stop-color="#ffffff"/><stop offset="0.40" stop-color="#fffcee"/><stop offset="0.47" stop-color="#fff2bc"/><stop offset="0.56" stop-color="#ffe03e"/><stop offset="0.8" stop-color="#ffc010"/><stop offset="1" stop-color="#ef950a"/></linearGradient></defs><polygon points="14.30,0.80 18.06,10.12 28.09,10.82 20.39,17.28 22.82,27.03 14.30,21.70 5.78,27.03 8.21,17.28 0.51,10.82 10.54,10.12" fill="url(#sg42)" stroke="#e6a21c" stroke-width="0.9" stroke-linejoin="round"/></svg></span><span class="st" style="left:119.6px"><svg width="28.6" height="28" viewBox="0 0 28.6 28" ><defs><linearGradient id="sg43" x1="0" y1="0" x2="0" y2="1"><stop offset="0" stop-color="#ffffff"/><stop offset="0.45" stop-color="#f8f8f8"/><stop offset="1" stop-color="#d4d4d4"/></linearGradient></defs><polygon points="14.30,0.80 18.06,10.12 28.09,10.82 20.39,17.28 22.82,27.03 14.30,21.70 5.78,27.03 8.21,17.28 0.51,10.82 10.54,10.12" fill="url(#sg43)" stroke="#cfcfcf" stroke-width="0.9" stroke-linejoin="round"/></svg></span></div>
<div class="pill" style="left:749px;top:459px;width:98px;background:#263fd9"></div><div class="pi" style="left:758px;top:462.5px"><svg width="18" height="18" viewBox="0 0 18 18"><defs><clipPath id="fl44"><path d="M0,0.9 Q4.3,-0.1 8.6,0.5 Q12.9,1.1 17.2,0.1 L17.2,10.6 Q12.9,11.6 8.6,11 Q4.3,10.4 0,11.5 Z"/></clipPath></defs><g transform="translate(0.4,3.3)"><g clip-path="url(#fl44)"><g transform="scale(0.9556,0.8846)"><rect x="0" y="0" width="18" height="13" fill="#ffffff"/><rect x="7.5" y="0" width="3" height="13" fill="#ce1124"/><rect x="0" y="5" width="18" height="3" fill="#ce1124"/></g></g></g></svg></div><div style="position:absolute;left:780.86px;top:463.00px;font-size:15.99px;line-height:1;white-space:pre;transform-origin:0 0;transform:scaleX(1.0167);color:#fff;">England</div>
<div style="position:absolute;left:912.50px;top:462.00px;font-size:16.13px;line-height:1;white-space:pre;transform-origin:0 0;transform:scaleX(0.9300);color:#1f2329;">6:2</div>
<div class="pill" style="left:998px;top:459px;width:100px;background:#e56b30"></div><div class="pi" style="left:1007px;top:462.5px"><svg width="18" height="18" viewBox="0 0 18 18" ><defs><radialGradient id="sb45" cx="0.4" cy="0.35" r="0.7"><stop offset="0" stop-color="#ffffff"/><stop offset="0.7" stop-color="#e6e6e6"/><stop offset="1" stop-color="#a9a9a9"/></radialGradient></defs><g transform="translate(0,-0.6)"><circle cx="9" cy="9" r="8.6" fill="url(#sb45)"/><polygon points="7.8,4.4 11.4,7 10.1,11.2 5.5,11.2 4.2,7" fill="#3a3a3a"/><path d="M5.2,1.4 L8,0.5 L6.8,2.6 Z M13.2,1.6 L16.2,4.4 L14.5,4.6 Z M0.7,7.2 L2.4,5 L2.3,9.3 Z M17.4,7.8 L17.2,12 L15.8,10.6 Z M6.3,17.1 L8.6,15.6 L11.6,15.6 L12.6,17 Q9,18.3 6.3,17.1 Z" fill="#333"/></g></svg></div><div style="position:absolute;left:1030.38px;top:463.00px;font-size:15.99px;line-height:1;white-space:pre;transform-origin:0 0;transform:scaleX(1.0239);color:#fff;">Group B</div>
<div class="pill" style="left:1123px;top:459px;width:100px;background:#26979e"></div><div class="pi" style="left:1132px;top:462.5px"><svg width="18" height="18" viewBox="0 0 18 18" ><defs><linearGradient id="kc46" x1="0" y1="0" x2="0" y2="1"><stop offset="0" stop-color="#c6d3e3"/><stop offset="0.25" stop-color="#8fa8c8"/><stop offset="1" stop-color="#5d7390"/></linearGradient></defs><g transform="translate(0,-1)"><rect x="-0.4" y="-0.2" width="19" height="18.6" rx="3.6" fill="url(#kc46)" stroke="#56698a" stroke-width="0.5"/><clipPath id="kc46c"><rect x="0" y="0" width="18" height="11.2"/><rect x="8.7" y="0" width="2.4" height="15"/></clipPath><text x="9.4" y="13.4" text-anchor="middle" clip-path="url(#kc46c)" font-family="Noto Sans CJK SC, Liberation Sans, sans-serif" font-weight="bold" font-size="13.6" fill="#fff">1</text></g></svg></div><div style="position:absolute;left:1154.86px;top:463.00px;font-size:15.99px;line-height:1;white-space:pre;transform-origin:0 0;transform:scaleX(1.0161);color:#fff;">Round 1</div>
<div class="pill" style="left:1264px;top:459px;width:68px;background:#acd5b3"></div><div class="pi" style="left:1273px;top:462.5px"><svg width="18" height="18" viewBox="0 0 18 18"><defs><clipPath id="fl47"><path d="M0,0.9 Q4.3,-0.1 8.6,0.5 Q12.9,1.1 17.2,0.1 L17.2,10.6 Q12.9,11.6 8.6,11 Q4.3,10.4 0,11.5 Z"/></clipPath></defs><g transform="translate(0.4,3.3)"><g clip-path="url(#fl47)"><g transform="scale(0.9556,0.8846)"><rect x="0" y="0" width="18" height="4.33" fill="#239f40"/><rect x="0" y="4.33" width="18" height="4.34" fill="#ffffff"/><rect x="0" y="8.67" width="18" height="4.33" fill="#da0000"/><circle cx="9" cy="6.5" r="1.2" fill="#da0000"/></g></g></g></svg></div><div style="position:absolute;left:1295.59px;top:463.00px;font-size:15.99px;line-height:1;white-space:pre;transform-origin:0 0;transform:scaleX(1.0910);color:#2b2f45;">Iran</div>
<div class="trk" style="top:470.0px"></div>
<div class="trka" style="top:470.0px;width:18.5px"></div>
<div class="thumb" style="left:1379.0px;top:463.8px"></div>
<div class="pill" style="left:1509px;top:459px;width:79px;background:#e84749"></div><div class="pi" style="left:1518px;top:462.5px"><svg width="18" height="18" viewBox="0 0 18 18" ><g transform="translate(-1,-1.1)"><defs><radialGradient id="fc48" cx="0.5" cy="0.3" r="0.75"><stop offset="0" stop-color="#fff6c2"/><stop offset="0.3" stop-color="#ffe04a"/><stop offset="0.75" stop-color="#ffc21c"/><stop offset="1" stop-color="#f29a0c"/></radialGradient></defs><circle cx="8.9" cy="9.4" r="8.4" fill="url(#fc48)" stroke="#e4960e" stroke-width="0.5"/><ellipse cx="5.8" cy="8.3" rx="1.8" ry="2.1" fill="#fff"/><circle cx="6" cy="8.7" r="1" fill="#222"/><ellipse cx="11.9" cy="5.4" rx="2.8" ry="2.7" fill="#fff" stroke="#c8c8c8" stroke-width="0.3"/><circle cx="11.4" cy="4.9" r="1.2" fill="#222"/><path d="M3.6,12.4 Q9,11.8 14.3,9.6 Q13,14.2 8.6,13.9 Z" fill="#fff" stroke="#7a4008" stroke-width="0.5"/><path d="M6.6,13.1 L10.4,12.9 L10.3,16.4 Q8.6,17.8 6.9,16.3 Z" fill="#f26aa8"/></g></svg></div><div style="position:absolute;left:1540.74px;top:463.00px;font-size:15.99px;line-height:1;white-space:pre;transform-origin:0 0;transform:scaleX(1.1052);color:#fff;">MON</div>
<div class="pill" style="left:1616px;top:459px;width:114px;background:#e56b30"></div><div class="pi" style="left:1625px;top:462.5px"><svg width="19" height="18" viewBox="0 0 19 18" ><path d="M5.3,3.8 Q8.6,3.2 11.2,6.8 Q13.8,10 15.4,12.6 L17.8,15.2 L16.4,16 L13.2,14 Q10,13.6 8,12.6 Q5.2,11 5,7.8 Z" fill="#8cc63a"/><path d="M10.6,9.8 Q13.2,11 14.4,13.6 Q12,13.8 10.4,12.6 Z" fill="#e0a020"/><path d="M14.6,14.2 L16.2,13.6 L16.6,15.2 Z" fill="#d42020"/><path d="M16,15 L18.6,16.6 L17.6,17.6 Z" fill="#7ac83a"/><circle cx="6.8" cy="3.4" r="2.9" fill="#f4e04a"/><path d="M4.2,2.2 Q2.8,2.6 3,4.8 L4.6,4.2 Z" fill="#3a3a3a"/><circle cx="6.5" cy="2.8" r="0.75" fill="#111"/><path d="M6.6,11.6 L6.2,15.6 M5,15.6 L8.8,15.6 M9.4,12.8 L9.8,16.4" stroke="#3e4a40" stroke-width="0.9" stroke-linecap="round"/></svg></div><div style="position:absolute;left:1647.92px;top:463.00px;font-size:15.99px;line-height:1;white-space:pre;transform-origin:0 0;transform:scaleX(0.9718);color:#fff;">Early Birds</div>
<div class="pill" style="left:1748px;top:459px;width:100px;background:#e56b30"></div><div class="pi" style="left:1757px;top:462.5px"><svg width="18" height="18" viewBox="0 0 18 18" ><defs><radialGradient id="ck49" cx="0.45" cy="0.3" r="0.75"><stop offset="0" stop-color="#ffffff"/><stop offset="0.7" stop-color="#f3f3f3"/><stop offset="1" stop-color="#d2d2d2"/></radialGradient></defs><g transform="translate(0,-0.7)"><circle cx="9" cy="9.2" r="8.6" fill="#8e8e94"/><circle cx="9" cy="9.2" r="7.7" fill="url(#ck49)"/><line x1="9" y1="9.2" x2="9" y2="3" stroke="#a8a8a8" stroke-width="1" stroke-linecap="round"/><line x1="9" y1="9.2" x2="10.90" y2="12.49" stroke="#a0a0a0" stroke-width="1.2" stroke-linecap="round"/></g></svg></div><div style="position:absolute;left:1780.53px;top:463.00px;font-size:15.99px;line-height:1;white-space:pre;transform-origin:0 0;transform:scaleX(1.0462);color:#fff;">5:00 AM</div>
<div class="fd fr" style="top:447px;height:48px"></div>
<div class="abs" style="left:10px;top:511px"><svg width="15" height="15" viewBox="0 0 15 15"><path d="M7.5,0.5 V14.5 M0.5,7.5 H14.5" stroke="#9ea6bd" stroke-width="1.5"/></svg></div>
<div style="position:absolute;left:34.10px;top:510.00px;font-size:16.28px;line-height:1;white-space:pre;transform-origin:0 0;transform:scaleX(0.9660);color:#a0a8be;">New Task</div>
<div style="position:absolute;left:22.78px;top:568.00px;font-size:20.35px;font-weight:bold;line-height:1;white-space:pre;transform-origin:0 0;transform:scaleX(0.9596);color:#40bcec;">Nov 22</div>
<div style="position:absolute;left:96.71px;top:568.00px;font-size:20.35px;font-weight:bold;line-height:1;white-space:pre;transform-origin:0 0;transform:scaleX(0.9763);color:#40bcec;">(4)</div>
<div class="abs" style="left:138px;top:570.4px"><svg width="15" height="15" viewBox="0 0 15 15"><path d="M7.5,0.5 V14.5 M0.5,7.5 H14.5" stroke="#9ea6bd" stroke-width="1.5"/></svg></div>
<div style="position:absolute;left:525.61px;top:570.00px;font-size:16.28px;line-height:1;white-space:pre;transform-origin:0 0;transform:scaleX(1.0348);color:#a2aac4;">Priority</div>
<div style="position:absolute;left:643.71px;top:570.00px;font-size:16.28px;line-height:1;white-space:pre;transform-origin:0 0;transform:scaleX(1.0378);color:#a2aac4;">Hot Spot</div>
<div style="position:absolute;left:775.55px;top:570.00px;font-size:16.28px;line-height:1;white-space:pre;transform-origin:0 0;transform:scaleX(0.9669);color:#a2aac4;">Team A</div>
<div style="position:absolute;left:901.44px;top:570.00px;font-size:16.28px;line-height:1;white-space:pre;transform-origin:0 0;transform:scaleX(0.9412);color:#a2aac4;">Results</div>
<div style="position:absolute;left:1007.01px;top:570.00px;font-size:16.28px;line-height:1;white-space:pre;transform-origin:0 0;transform:scaleX(0.9758);color:#a2aac4;">Group Stage</div>
<div style="position:absolute;left:1152.65px;top:570.00px;font-size:16.28px;line-height:1;white-space:pre;transform-origin:0 0;transform:scaleX(1.0048);color:#a2aac4;">Round</div>
<div style="position:absolute;left:1276.66px;top:570.00px;font-size:16.28px;line-height:1;white-space:pre;transform-origin:0 0;transform:scaleX(0.9321);color:#a2aac4;">Team B</div>
<div style="position:absolute;left:1372.12px;top:570.00px;font-size:16.28px;line-height:1;white-space:pre;transform-origin:0 0;transform:scaleX(1.0087);color:#a2aac4;">Win Probability</div>
<div style="position:absolute;left:1532.12px;top:570.00px;font-size:16.28px;line-height:1;white-space:pre;transform-origin:0 0;transform:scaleX(0.9630);color:#a2aac4;">Week</div>
<div style="position:absolute;left:1617.36px;top:570.00px;font-size:16.28px;line-height:1;white-space:pre;transform-origin:0 0;transform:scaleX(0.9932);color:#a2aac4;">Advice on Wat...</div>
<div style="position:absolute;left:1763.62px;top:570.00px;font-size:16.28px;line-height:1;white-space:pre;transform-origin:0 0;transform:scaleX(1.0262);color:#a2aac4;">Kick-off in:</div>
<div style="position:absolute;left:1890.27px;top:570.00px;font-size:16.28px;line-height:1;white-space:pre;transform-origin:0 0;color:#a2aac4;">Stadium</div>
<div class="fd fh" style="top:554px;height:50px"></div>
<div class="line" style="top:604px"></div>
<div class="row" style="top:605px;height:47px"></div>
<div class="line" style="top:652px"></div>
<div class="sq" style="top:623.5px;background:#40bdec"></div>
<div style="position:absolute;left:70.91px;top:619.00px;font-size:19.77px;line-height:1;white-space:pre;transform-origin:0 0;transform:scaleX(0.9563);color:#838ba5;">#014</div>
<div style="position:absolute;left:129.80px;top:619.00px;font-size:19.77px;line-height:1;white-space:pre;transform-origin:0 0;transform:scaleX(0.9187);color:#1f2329;">France VS Australia</div>
<div class="abs" style="left:540.5px;top:618.5px"><svg width="17" height="19" viewBox="0 0 17 19" ><defs><linearGradient id="pf50" x1="0" y1="0" x2="1" y2="0.3"><stop offset="0" stop-color="#ee7c82"/><stop offset="1" stop-color="#eb6c73"/></linearGradient></defs><path d="M2,1.2 L6.2,16.6" stroke="#ee7c82" stroke-width="1.9" stroke-linecap="round"/><path d="M0.8,1.1 Q1.6,0.2 4,0.3 Q7,0.7 9.5,1.3 Q11.6,1.6 13.1,1 Q13.9,0.9 14.1,1.8 L15.2,7.6 Q15.4,9.2 13.6,9.6 Q11.4,9.5 9.2,8.9 Q6.4,8.3 3.4,8.7 Z" fill="url(#pf50)"/></svg></div>
<div class="stars" style="top:615.0px"><span class="st" style="left:0.0px"><svg width="28.6" height="28" viewBox="0 0 28.6 28" ><defs><linearGradient id="sg51" x1="0" y1="0" x2="0" y2="1"><stop offset="0" stop-color="#ffffff"/><stop offset="0.40" stop-color="#fffcee"/><stop offset="0.47" stop-color="#fff2bc"/><stop offset="0.56" stop-color="#ffe03e"/><stop offset="0.8" stop-color="#ffc010"/><stop offset="1" stop-color="#ef950a"/></linearGradient></defs><polygon points="14.30,0.80 18.06,10.12 28.09,10.82 20.39,17.28 22.82,27.03 14.30,21.70 5.78,27.03 8.21,17.28 0.51,10.82 10.54,10.12" fill="url(#sg51)" stroke="#e6a21c" stroke-width="0.9" stroke-linejoin="round"/></svg></span><span class="st" style="left:29.9px"><svg width="28.6" height="28" viewBox="0 0 28.6 28" ><defs><linearGradient id="sg52" x1="0" y1="0" x2="0" y2="1"><stop offset="0" stop-color="#ffffff"/><stop offset="0.40" stop-color="#fffcee"/><stop offset="0.47" stop-color="#fff2bc"/><stop offset="0.56" stop-color="#ffe03e"/><stop offset="0.8" stop-color="#ffc010"/><stop offset="1" stop-color="#ef950a"/></linearGradient></defs><polygon points="14.30,0.80 18.06,10.12 28.09,10.82 20.39,17.28 22.82,27.03 14.30,21.70 5.78,27.03 8.21,17.28 0.51,10.82 10.54,10.12" fill="url(#sg52)" stroke="#e6a21c" stroke-width="0.9" stroke-linejoin="round"/></svg></span><span class="st" style="left:59.8px"><svg width="28.6" height="28" viewBox="0 0 28.6 28" ><defs><linearGradient id="sg53" x1="0" y1="0" x2="0" y2="1"><stop offset="0" stop-color="#ffffff"/><stop offset="0.40" stop-color="#fffcee"/><stop offset="0.47" stop-color="#fff2bc"/><stop offset="0.56" stop-color="#ffe03e"/><stop offset="0.8" stop-color="#ffc010"/><stop offset="1" stop-color="#ef950a"/></linearGradient></defs><polygon points="14.30,0.80 18.06,10.12 28.09,10.82 20.39,17.28 22.82,27.03 14.30,21.70 5.78,27.03 8.21,17.28 0.51,10.82 10.54,10.12" fill="url(#sg53)" stroke="#e6a21c" stroke-width="0.9" stroke-linejoin="round"/></svg></span><span class="st" style="left:89.7px"><svg width="28.6" height="28" viewBox="0 0 28.6 28" ><defs><linearGradient id="sg54" x1="0" y1="0" x2="0" y2="1"><stop offset="0" stop-color="#ffffff"/><stop offset="0.40" stop-color="#fffcee"/><stop offset="0.47" stop-color="#fff2bc"/><stop offset="0.56" stop-color="#ffe03e"/><stop offset="0.8" stop-color="#ffc010"/><stop offset="1" stop-color="#ef950a"/></linearGradient></defs><polygon points="14.30,0.80 18.06,10.12 28.09,10.82 20.39,17.28 22.82,27.03 14.30,21.70 5.78,27.03 8.21,17.28 0.51,10.82 10.54,10.12" fill="url(#sg54)" stroke="#e6a21c" stroke-width="0.9" stroke-linejoin="round"/></svg></span><span class="st" style="left:119.6px"><svg width="28.6" height="28" viewBox="0 0 28.6 28" ><defs><linearGradient id="sg55" x1="0" y1="0" x2="0" y2="1"><stop offset="0" stop-color="#ffffff"/><stop offset="0.45" stop-color="#f8f8f8"/><stop offset="1" stop-color="#d4d4d4"/></linearGradient></defs><polygon points="14.30,0.80 18.06,10.12 28.09,10.82 20.39,17.28 22.82,27.03 14.30,21.70 5.78,27.03 8.21,17.28 0.51,10.82 10.54,10.12" fill="url(#sg55)" stroke="#cfcfcf" stroke-width="0.9" stroke-linejoin="round"/></svg></span></div>
<div class="pill" style="left:755px;top:616px;width:87px;background:#acd5b3"></div><div class="pi" style="left:764px;top:619.5px"><svg width="18" height="18" viewBox="0 0 18 18"><defs><clipPath id="fl56"><path d="M0,0.9 Q4.3,-0.1 8.6,0.5 Q12.9,1.1 17.2,0.1 L17.2,10.6 Q12.9,11.6 8.6,11 Q4.3,10.4 0,11.5 Z"/></clipPath></defs><g transform="translate(0.4,3.3)"><g clip-path="url(#fl56)"><g transform="scale(0.9556,0.8846)"><rect x="0" y="0" width="6" height="13" fill="#002395"/><rect x="6" y="0" width="6" height="13" fill="#ffffff"/><rect x="12" y="0" width="6" height="13" fill="#ed2939"/></g></g></g></svg></div><div style="position:absolute;left:786.92px;top:620.00px;font-size:15.99px;line-height:1;white-space:pre;transform-origin:0 0;transform:scaleX(0.9701);color:#2b2f45;">France</div>
<div style="position:absolute;left:912.91px;top:620.00px;font-size:16.13px;line-height:1;white-space:pre;transform-origin:0 0;transform:scaleX(0.9300);color:#1f2329;">4:1</div>
<div class="pill" style="left:998px;top:616px;width:100px;background:#93e65b"></div><div class="pi" style="left:1007px;top:619.5px"><svg width="18" height="18" viewBox="0 0 18 18" ><defs><radialGradient id="sb57" cx="0.4" cy="0.35" r="0.7"><stop offset="0" stop-color="#ffffff"/><stop offset="0.7" stop-color="#e6e6e6"/><stop offset="1" stop-color="#a9a9a9"/></radialGradient></defs><g transform="translate(0,-0.6)"><circle cx="9" cy="9" r="8.6" fill="url(#sb57)"/><polygon points="7.8,4.4 11.4,7 10.1,11.2 5.5,11.2 4.2,7" fill="#3a3a3a"/><path d="M5.2,1.4 L8,0.5 L6.8,2.6 Z M13.2,1.6 L16.2,4.4 L14.5,4.6 Z M0.7,7.2 L2.4,5 L2.3,9.3 Z M17.4,7.8 L17.2,12 L15.8,10.6 Z M6.3,17.1 L8.6,15.6 L11.6,15.6 L12.6,17 Q9,18.3 6.3,17.1 Z" fill="#333"/></g></svg></div><div style="position:absolute;left:1030.39px;top:620.00px;font-size:15.99px;line-height:1;white-space:pre;transform-origin:0 0;transform:scaleX(1.0072);color:#fff;">Group D</div>
<div class="pill" style="left:1123px;top:616px;width:100px;background:#26979e"></div><div class="pi" style="left:1132px;top:619.5px"><svg width="18" height="18" viewBox="0 0 18 18" ><defs><linearGradient id="kc58" x1="0" y1="0" x2="0" y2="1"><stop offset="0" stop-color="#c6d3e3"/><stop offset="0.25" stop-color="#8fa8c8"/><stop offset="1" stop-color="#5d7390"/></linearGradient></defs><g transform="translate(0,-1)"><rect x="-0.4" y="-0.2" width="19" height="18.6" rx="3.6" fill="url(#kc58)" stroke="#56698a" stroke-width="0.5"/><clipPath id="kc58c"><rect x="0" y="0" width="18" height="11.2"/><rect x="8.7" y="0" width="2.4" height="15"/></clipPath><text x="9.4" y="13.4" text-anchor="middle" clip-path="url(#kc58c)" font-family="Noto Sans CJK SC, Liberation Sans, sans-serif" font-weight="bold" font-size="13.6" fill="#fff">1</text></g></svg></div><div style="position:absolute;left:1154.86px;top:620.00px;font-size:15.99px;line-height:1;white-space:pre;transform-origin:0 0;transform:scaleX(1.0161);color:#fff;">Round 1</div>
<div class="pill" style="left:1247px;top:616px;width:103px;background:#263fd9"></div><div class="pi" style="left:1256px;top:619.5px"><svg width="18" height="18" viewBox="0 0 18 18"><defs><clipPath id="fl59"><path d="M0,0.9 Q4.3,-0.1 8.6,0.5 Q12.9,1.1 17.2,0.1 L17.2,10.6 Q12.9,11.6 8.6,11 Q4.3,10.4 0,11.5 Z"/></clipPath></defs><g transform="translate(0.4,3.3)"><g clip-path="url(#fl59)"><g transform="scale(0.9556,0.8846)"><rect x="0" y="0" width="18" height="13" fill="#1a3a8a"/><path d="M0,0 L8,6 M8,0 L0,6" stroke="#fff" stroke-width="1.4"/><path d="M4,0 V6 M0,3 H8" stroke="#fff" stroke-width="2"/><path d="M4,0 V6 M0,3 H8" stroke="#c8102e" stroke-width="1"/><circle cx="4" cy="10" r="1.2" fill="#fff"/><circle cx="13" cy="3" r="0.8" fill="#fff"/><circle cx="15.5" cy="6" r="0.8" fill="#fff"/><circle cx="13" cy="10.5" r="0.8" fill="#fff"/><circle cx="11" cy="6.5" r="0.8" fill="#fff"/></g></g></g></svg></div><div style="position:absolute;left:1280.16px;top:620.00px;font-size:15.99px;line-height:1;white-space:pre;transform-origin:0 0;transform:scaleX(1.0023);color:#fff;">Australia</div>
<div class="trk" style="top:627.5px"></div>
<div class="trka" style="top:627.5px;width:33.6px"></div>
<div class="thumb" style="left:1394.1px;top:621.3px"></div>
<div class="pill" style="left:1511px;top:616px;width:75px;background:#fec904"></div><div class="pi" style="left:1520px;top:619.5px"><svg width="18" height="18" viewBox="0 0 18 18" ><g transform="translate(-0.9,0.1)"><defs><radialGradient id="fc60" cx="0.5" cy="0.3" r="0.75"><stop offset="0" stop-color="#fff6c2"/><stop offset="0.3" stop-color="#ffe04a"/><stop offset="0.75" stop-color="#ffc21c"/><stop offset="1" stop-color="#f29a0c"/></radialGradient></defs><circle cx="8.9" cy="9.4" r="8.4" fill="url(#fc60)" stroke="#e4960e" stroke-width="0.5"/><ellipse cx="5.9" cy="9" rx="2.8" ry="2.6" fill="#1e1a2a"/><ellipse cx="11.9" cy="9" rx="2.8" ry="2.6" fill="#1e1a2a"/><ellipse cx="5" cy="8.3" rx="1.6" ry="1.4" fill="#fff"/><ellipse cx="11" cy="8.3" rx="1.6" ry="1.4" fill="#fff"/><circle cx="7.2" cy="10" r="0.5" fill="#fff"/><circle cx="13" cy="10" r="0.5" fill="#fff"/><ellipse cx="8.9" cy="13.6" rx="1.1" ry="0.55" fill="#4a2208"/><path d="M3.5,6 Q4.6,4.7 6.4,4.6 M14.3,6 Q13.2,4.7 11.4,4.6" stroke="#8a4a0a" stroke-width="0.75" fill="none"/></g></svg></div><div style="position:absolute;left:1544.12px;top:620.00px;font-size:15.99px;line-height:1;white-space:pre;transform-origin:0 0;transform:scaleX(0.9409);color:#fff;">WED</div>
<div class="pill" style="left:1611px;top:616px;width:125px;background:#26979e"></div><div class="pi" style="left:1620px;top:619.5px"><svg width="18" height="19" viewBox="0 0 18 19" ><defs><linearGradient id="th61" x1="0" y1="0" x2="0" y2="1"><stop offset="0" stop-color="#ffe070"/><stop offset="0.6" stop-color="#ffcc2e"/><stop offset="1" stop-color="#f5a814"/></linearGradient></defs><path d="M0.2,10.2 Q0.4,8 2.9,7.5 Q5.4,6.9 6.9,4.6 L7.5,1.3 Q8.1,-0.1 9.5,0.3 Q10.8,0.8 10.6,2.9 L10.3,7.2 L15.6,7.2 Q17.4,7.4 17.3,8.8 Q17.2,9.9 16.3,10.1 Q17.3,10.5 17.2,11.8 Q17,12.8 16.1,12.9 Q17,13.4 16.8,14.6 Q16.5,15.5 15.6,15.6 Q16.2,16.2 15.8,17.2 Q15.3,18.2 14,18.2 L7.5,18.3 Q5.5,18.4 3.8,17.5 Q0.3,16.6 0.2,13 Z" fill="url(#th61)" stroke="#e8a010" stroke-width="0.4"/><path d="M10.6,10.1 H16.2 M10.5,12.9 H16 M10.4,15.6 H15.5" stroke="#e39a0e" stroke-width="0.7"/></svg></div><div style="position:absolute;left:1642.86px;top:620.00px;font-size:15.99px;line-height:1;white-space:pre;transform-origin:0 0;transform:scaleX(1.0140);color:#fff;">Highly rec...</div>
<div class="pill" style="left:1744px;top:616px;width:108px;background:#4ac0f0"></div><div class="pi" style="left:1753px;top:619.5px"><svg width="18" height="18" viewBox="0 0 18 18" ><defs><radialGradient id="ck62" cx="0.45" cy="0.3" r="0.75"><stop offset="0" stop-color="#ffffff"/><stop offset="0.7" stop-color="#f3f3f3"/><stop offset="1" stop-color="#d2d2d2"/></radialGradient></defs><g transform="translate(0,-0.7)"><circle cx="9" cy="9.2" r="8.6" fill="#8e8e94"/><circle cx="9" cy="9.2" r="7.7" fill="url(#ck62)"/><line x1="9" y1="9.2" x2="9" y2="3" stroke="#a8a8a8" stroke-width="1" stroke-linecap="round"/><line x1="9" y1="9.2" x2="7.10" y2="5.91" stroke="#a0a0a0" stroke-width="1.2" stroke-linecap="round"/></g></svg></div><div style="position:absolute;left:1775.94px;top:620.00px;font-size:15.99px;line-height:1;white-space:pre;transform-origin:0 0;transform:scaleX(1.0543);color:#fff;">11:00 AM</div>
<div class="fd fr" style="top:605px;height:47px"></div>
<div class="row" style="top:653px;height:48px"></div>
<div class="line" style="top:701px"></div>
<div class="sq" style="top:672.0px;background:#40bdec"></div>
<div style="position:absolute;left:70.91px;top:668.00px;font-size:19.77px;line-height:1;white-space:pre;transform-origin:0 0;transform:scaleX(0.9466);color:#838ba5;">#013</div>
<div style="position:absolute;left:129.78px;top:668.00px;font-size:19.77px;line-height:1;white-space:pre;transform-origin:0 0;transform:scaleX(0.9336);color:#1f2329;">Mexico VS Poland</div>
<div class="abs" style="left:540.5px;top:667.0px"><svg width="17" height="19" viewBox="0 0 17 19" ><defs><linearGradient id="pf63" x1="0" y1="0" x2="1" y2="0.3"><stop offset="0" stop-color="#fdd448"/><stop offset="1" stop-color="#fcce38"/></linearGradient></defs><path d="M2,1.2 L6.2,16.6" stroke="#fdd448" stroke-width="1.9" stroke-linecap="round"/><path d="M0.8,1.1 Q1.6,0.2 4,0.3 Q7,0.7 9.5,1.3 Q11.6,1.6 13.1,1 Q13.9,0.9 14.1,1.8 L15.2,7.6 Q15.4,9.2 13.6,9.6 Q11.4,9.5 9.2,8.9 Q6.4,8.3 3.4,8.7 Z" fill="url(#pf63)"/></svg></div>
<div class="stars" style="top:663.5px"><span class="st" style="left:0.0px"><svg width="28.6" height="28" viewBox="0 0 28.6 28" ><defs><linearGradient id="sg64" x1="0" y1="0" x2="0" y2="1"><stop offset="0" stop-color="#ffffff"/><stop offset="0.40" stop-color="#fffcee"/><stop offset="0.47" stop-color="#fff2bc"/><stop offset="0.56" stop-color="#ffe03e"/><stop offset="0.8" stop-color="#ffc010"/><stop offset="1" stop-color="#ef950a"/></linearGradient></defs><polygon points="14.30,0.80 18.06,10.12 28.09,10.82 20.39,17.28 22.82,27.03 14.30,21.70 5.78,27.03 8.21,17.28 0.51,10.82 10.54,10.12" fill="url(#sg64)" stroke="#e6a21c" stroke-width="0.9" stroke-linejoin="round"/></svg></span><span class="st" style="left:29.9px"><svg width="28.6" height="28" viewBox="0 0 28.6 28" ><defs><linearGradient id="sg65" x1="0" y1="0" x2="0" y2="1"><stop offset="0" stop-color="#ffffff"/><stop offset="0.40" stop-color="#fffcee"/><stop offset="0.47" stop-color="#fff2bc"/><stop offset="0.56" stop-color="#ffe03e"/><stop offset="0.8" stop-color="#ffc010"/><stop offset="1" stop-color="#ef950a"/></linearGradient></defs><polygon points="14.30,0.80 18.06,10.12 28.09,10.82 20.39,17.28 22.82,27.03 14.30,21.70 5.78,27.03 8.21,17.28 0.51,10.82 10.54,10.12" fill="url(#sg65)" stroke="#e6a21c" stroke-width="0.9" stroke-linejoin="round"/></svg></span><span class="st" style="left:59.8px"><svg width="28.6" height="28" viewBox="0 0 28.6 28" ><defs><linearGradient id="sg66" x1="0" y1="0" x2="0" y2="1"><stop offset="0" stop-color="#ffffff"/><stop offset="0.40" stop-color="#fffcee"/><stop offset="0.47" stop-color="#fff2bc"/><stop offset="0.56" stop-color="#ffe03e"/><stop offset="0.8" stop-color="#ffc010"/><stop offset="1" stop-color="#ef950a"/></linearGradient></defs><polygon points="14.30,0.80 18.06,10.12 28.09,10.82 20.39,17.28 22.82,27.03 14.30,21.70 5.78,27.03 8.21,17.28 0.51,10.82 10.54,10.12" fill="url(#sg66)" stroke="#e6a21c" stroke-width="0.9" stroke-linejoin="round"/></svg></span><span class="st" style="left:89.7px"><svg width="28.6" height="28" viewBox="0 0 28.6 28" ><defs><linearGradient id="sg67" x1="0" y1="0" x2="0" y2="1"><stop offset="0" stop-color="#ffffff"/><stop offset="0.40" stop-color="#fffcee"/><stop offset="0.47" stop-color="#fff2bc"/><stop offset="0.56" stop-color="#ffe03e"/><stop offset="0.8" stop-color="#ffc010"/><stop offset="1" stop-color="#ef950a"/></linearGradient></defs><polygon points="14.30,0.80 18.06,10.12 28.09,10.82 20.39,17.28 22.82,27.03 14.30,21.70 5.78,27.03 8.21,17.28 0.51,10.82 10.54,10.12" fill="url(#sg67)" stroke="#e6a21c" stroke-width="0.9" stroke-linejoin="round"/></svg></span><span class="st" style="left:119.6px"><svg width="28.6" height="28" viewBox="0 0 28.6 28" ><defs><linearGradient id="sg68" x1="0" y1="0" x2="0" y2="1"><stop offset="0" stop-color="#ffffff"/><stop offset="0.45" stop-color="#f8f8f8"/><stop offset="1" stop-color="#d4d4d4"/></linearGradient></defs><polygon points="14.30,0.80 18.06,10.12 28.09,10.82 20.39,17.28 22.82,27.03 14.30,21.70 5.78,27.03 8.21,17.28 0.51,10.82 10.54,10.12" fill="url(#sg68)" stroke="#cfcfcf" stroke-width="0.9" stroke-linejoin="round"/></svg></span></div>
<div class="pill" style="left:752px;top:665px;width:92px;background:#577152"></div><div class="pi" style="left:761px;top:668.5px"><svg width="18" height="18" viewBox="0 0 18 18"><defs><clipPath id="fl69"><path d="M0,0.9 Q4.3,-0.1 8.6,0.5 Q12.9,1.1 17.2,0.1 L17.2,10.6 Q12.9,11.6 8.6,11 Q4.3,10.4 0,11.5 Z"/></clipPath></defs><g transform="translate(0.4,3.3)"><g clip-path="url(#fl69)"><g transform="scale(0.9556,0.8846)"><rect x="0" y="0" width="6" height="13" fill="#006847"/><rect x="6" y="0" width="6" height="13" fill="#ffffff"/><rect x="12" y="0" width="6" height="13" fill="#ce1126"/><circle cx="9" cy="6.5" r="1.5" fill="#8a6a2a"/></g></g></g></svg></div><div style="position:absolute;left:783.81px;top:669.00px;font-size:15.99px;line-height:1;white-space:pre;transform-origin:0 0;transform:scaleX(1.0537);color:#fff;">Mexico</div>
<div style="position:absolute;left:912.65px;top:668.00px;font-size:16.13px;line-height:1;white-space:pre;transform-origin:0 0;transform:scaleX(0.9300);color:#1f2329;">0:0</div>
<div class="pill" style="left:998px;top:665px;width:100px;background:#fec904"></div><div class="pi" style="left:1007px;top:668.5px"><svg width="18" height="18" viewBox="0 0 18 18" ><defs><radialGradient id="sb70" cx="0.4" cy="0.35" r="0.7"><stop offset="0" stop-color="#ffffff"/><stop offset="0.7" stop-color="#e6e6e6"/><stop offset="1" stop-color="#a9a9a9"/></radialGradient></defs><g transform="translate(0,-0.6)"><circle cx="9" cy="9" r="8.6" fill="url(#sb70)"/><polygon points="7.8,4.4 11.4,7 10.1,11.2 5.5,11.2 4.2,7" fill="#3a3a3a"/><path d="M5.2,1.4 L8,0.5 L6.8,2.6 Z M13.2,1.6 L16.2,4.4 L14.5,4.6 Z M0.7,7.2 L2.4,5 L2.3,9.3 Z M17.4,7.8 L17.2,12 L15.8,10.6 Z M6.3,17.1 L8.6,15.6 L11.6,15.6 L12.6,17 Q9,18.3 6.3,17.1 Z" fill="#333"/></g></svg></div><div style="position:absolute;left:1030.40px;top:669.00px;font-size:15.99px;line-height:1;white-space:pre;transform-origin:0 0;transform:scaleX(1.0051);color:#fff;">Group C</div>
<div class="pill" style="left:1123px;top:665px;width:100px;background:#26979e"></div><div class="pi" style="left:1132px;top:668.5px"><svg width="18" height="18" viewBox="0 0 18 18" ><defs><linearGradient id="kc71" x1="0" y1="0" x2="0" y2="1"><stop offset="0" stop-color="#c6d3e3"/><stop offset="0.25" stop-color="#8fa8c8"/><stop offset="1" stop-color="#5d7390"/></linearGradient></defs><g transform="translate(0,-1)"><rect x="-0.4" y="-0.2" width="19" height="18.6" rx="3.6" fill="url(#kc71)" stroke="#56698a" stroke-width="0.5"/><clipPath id="kc71c"><rect x="0" y="0" width="18" height="11.2"/><rect x="8.7" y="0" width="2.4" height="15"/></clipPath><text x="9.4" y="13.4" text-anchor="middle" clip-path="url(#kc71c)" font-family="Noto Sans CJK SC, Liberation Sans, sans-serif" font-weight="bold" font-size="13.6" fill="#fff">1</text></g></svg></div><div style="position:absolute;left:1154.86px;top:669.00px;font-size:15.99px;line-height:1;white-space:pre;transform-origin:0 0;transform:scaleX(1.0161);color:#fff;">Round 1</div>
<div class="pill" style="left:1254px;top:665px;width:89px;background:#cccccc"></div><div class="pi" style="left:1263px;top:668.5px"><svg width="18" height="18" viewBox="0 0 18 18"><defs><clipPath id="fl72"><path d="M0,0.9 Q4.3,-0.1 8.6,0.5 Q12.9,1.1 17.2,0.1 L17.2,10.6 Q12.9,11.6 8.6,11 Q4.3,10.4 0,11.5 Z"/></clipPath></defs><g transform="translate(0.4,3.3)"><g clip-path="url(#fl72)"><g transform="scale(0.9556,0.8846)"><rect x="0" y="0" width="18" height="6.5" fill="#ffffff"/><rect x="0" y="6.5" width="18" height="6.5" fill="#dc143c"/></g></g></g></svg></div><div style="position:absolute;left:1285.86px;top:669.00px;font-size:15.99px;line-height:1;white-space:pre;transform-origin:0 0;transform:scaleX(1.0180);color:#2b2f45;">Poland</div>
<div class="trk" style="top:676.0px"></div>
<div class="trka" style="top:676.0px;width:55.5px"></div>
<div class="thumb" style="left:1416.0px;top:669.8px"></div>
<div class="pill" style="left:1511px;top:665px;width:75px;background:#fec904"></div><div class="pi" style="left:1520px;top:668.5px"><svg width="18" height="18" viewBox="0 0 18 18" ><g transform="translate(-0.9,0.1)"><defs><radialGradient id="fc73" cx="0.5" cy="0.3" r="0.75"><stop offset="0" stop-color="#fff6c2"/><stop offset="0.3" stop-color="#ffe04a"/><stop offset="0.75" stop-color="#ffc21c"/><stop offset="1" stop-color="#f29a0c"/></radialGradient></defs><circle cx="8.9" cy="9.4" r="8.4" fill="url(#fc73)" stroke="#e4960e" stroke-width="0.5"/><ellipse cx="5.9" cy="9" rx="2.8" ry="2.6" fill="#1e1a2a"/><ellipse cx="11.9" cy="9" rx="2.8" ry="2.6" fill="#1e1a2a"/><ellipse cx="5" cy="8.3" rx="1.6" ry="1.4" fill="#fff"/><ellipse cx="11" cy="8.3" rx="1.6" ry="1.4" fill="#fff"/><circle cx="7.2" cy="10" r="0.5" fill="#fff"/><circle cx="13" cy="10" r="0.5" fill="#fff"/><ellipse cx="8.9" cy="13.6" rx="1.1" ry="0.55" fill="#4a2208"/><path d="M3.5,6 Q4.6,4.7 6.4,4.6 M14.3,6 Q13.2,4.7 11.4,4.6" stroke="#8a4a0a" stroke-width="0.75" fill="none"/></g></svg></div><div style="position:absolute;left:1544.12px;top:669.00px;font-size:15.99px;line-height:1;white-space:pre;transform-origin:0 0;transform:scaleX(0.9409);color:#fff;">WED</div>
<div class="pill" style="left:1611px;top:665px;width:125px;background:#acd5b3"></div><div class="pi" style="left:1620px;top:668.5px"><svg width="18" height="18" viewBox="0 0 18 18" ><line x1="10" y1="11" x2="17" y2="17.3" stroke="#c08a50" stroke-width="1.1" stroke-linecap="round"/><path d="M-0.8,1.4 L6.5,2.3 L2.3,8.3 Z" fill="#a9a9ad" stroke="#808088" stroke-width="0.5" stroke-linejoin="round"/><circle cx="6.6" cy="7.2" r="3.7" fill="#f0b24a" stroke="#b86e2a" stroke-width="0.8"/><rect x="6.5" y="11.4" width="9.4" height="3.6" rx="0.8" transform="rotate(-38 11.2 13.2)" fill="#fde8cc" stroke="#e2c29a" stroke-width="0.4"/></svg></div><div style="position:absolute;left:1642.96px;top:669.00px;font-size:15.99px;line-height:1;white-space:pre;transform-origin:0 0;transform:scaleX(0.9403);color:#2b2f45;">Easy Games</div>
<div class="pill" style="left:1748px;top:665px;width:100px;background:#e84749"></div><div class="pi" style="left:1757px;top:668.5px"><svg width="18" height="18" viewBox="0 0 18 18" ><defs><radialGradient id="ck74" cx="0.45" cy="0.3" r="0.75"><stop offset="0" stop-color="#ffffff"/><stop offset="0.7" stop-color="#f3f3f3"/><stop offset="1" stop-color="#d2d2d2"/></radialGradient></defs><g transform="translate(0,-0.7)"><circle cx="9" cy="9.2" r="8.6" fill="#8e8e94"/><circle cx="9" cy="9.2" r="7.7" fill="url(#ck74)"/><line x1="9" y1="9.2" x2="9" y2="3" stroke="#a8a8a8" stroke-width="1" stroke-linecap="round"/><line x1="9" y1="9.2" x2="5.71" y2="11.10" stroke="#a0a0a0" stroke-width="1.2" stroke-linecap="round"/></g></svg></div><div style="position:absolute;left:1780.49px;top:669.00px;font-size:15.99px;line-height:1;white-space:pre;transform-origin:0 0;transform:scaleX(1.0470);color:#fff;">8:00 AM</div>
<div class="fd fr" style="top:653px;height:48px"></div>
<div class="row" style="top:702px;height:48px"></div>
<div class="line" style="top:750px"></div>
<div class="sq" style="top:721.0px;background:#40bdec"></div>
<div style="position:absolute;left:70.91px;top:717.00px;font-size:19.77px;line-height:1;white-space:pre;transform-origin:0 0;transform:scaleX(0.9569);color:#838ba5;">#012</div>
<div style="position:absolute;left:129.80px;top:717.00px;font-size:19.77px;line-height:1;white-space:pre;transform-origin:0 0;transform:scaleX(0.9191);color:#1f2329;">Denmark VS Tunisia</div>
<div class="abs" style="left:540.5px;top:716.0px"><svg width="17" height="19" viewBox="0 0 17 19" ><defs><linearGradient id="pf75" x1="0" y1="0" x2="1" y2="0.3"><stop offset="0" stop-color="#fdd448"/><stop offset="1" stop-color="#fcce38"/></linearGradient></defs><path d="M2,1.2 L6.2,16.6" stroke="#fdd448" stroke-width="1.9" stroke-linecap="round"/><path d="M0.8,1.1 Q1.6,0.2 4,0.3 Q7,0.7 9.5,1.3 Q11.6,1.6 13.1,1 Q13.9,0.9 14.1,1.8 L15.2,7.6 Q15.4,9.2 13.6,9.6 Q11.4,9.5 9.2,8.9 Q6.4,8.3 3.4,8.7 Z" fill="url(#pf75)"/></svg></div>
<div class="stars" style="top:712.5px"><span class="st" style="left:0.0px"><svg width="28.6" height="28" viewBox="0 0 28.6 28" ><defs><linearGradient id="sg76" x1="0" y1="0" x2="0" y2="1"><stop offset="0" stop-color="#ffffff"/><stop offset="0.40" stop-color="#fffcee"/><stop offset="0.47" stop-color="#fff2bc"/><stop offset="0.56" stop-color="#ffe03e"/><stop offset="0.8" stop-color="#ffc010"/><stop offset="1" stop-color="#ef950a"/></linearGradient></defs><polygon points="14.30,0.80 18.06,10.12 28.09,10.82 20.39,17.28 22.82,27.03 14.30,21.70 5.78,27.03 8.21,17.28 0.51,10.82 10.54,10.12" fill="url(#sg76)" stroke="#e6a21c" stroke-width="0.9" stroke-linejoin="round"/></svg></span><span class="st" style="left:29.9px"><svg width="28.6" height="28" viewBox="0 0 28.6 28" ><defs><linearGradient id="sg77" x1="0" y1="0" x2="0" y2="1"><stop offset="0" stop-color="#ffffff"/><stop offset="0.40" stop-color="#fffcee"/><stop offset="0.47" stop-color="#fff2bc"/><stop offset="0.56" stop-color="#ffe03e"/><stop offset="0.8" stop-color="#ffc010"/><stop offset="1" stop-color="#ef950a"/></linearGradient></defs><polygon points="14.30,0.80 18.06,10.12 28.09,10.82 20.39,17.28 22.82,27.03 14.30,21.70 5.78,27.03 8.21,17.28 0.51,10.82 10.54,10.12" fill="url(#sg77)" stroke="#e6a21c" stroke-width="0.9" stroke-linejoin="round"/></svg></span><span class="st" style="left:59.8px"><svg width="28.6" height="28" viewBox="0 0 28.6 28" ><defs><linearGradient id="sg78" x1="0" y1="0" x2="0" y2="1"><stop offset="0" stop-color="#ffffff"/><stop offset="0.40" stop-color="#fffcee"/><stop offset="0.47" stop-color="#fff2bc"/><stop offset="0.56" stop-color="#ffe03e"/><stop offset="0.8" stop-color="#ffc010"/><stop offset="1" stop-color="#ef950a"/></linearGradient></defs><polygon points="14.30,0.80 18.06,10.12 28.09,10.82 20.39,17.28 22.82,27.03 14.30,21.70 5.78,27.03 8.21,17.28 0.51,10.82 10.54,10.12" fill="url(#sg78)" stroke="#e6a21c" stroke-width="0.9" stroke-linejoin="round"/></svg></span><span class="st" style="left:89.7px"><svg width="28.6" height="28" viewBox="0 0 28.6 28" ><defs><linearGradient id="sg79" x1="0" y1="0" x2="0" y2="1"><stop offset="0" stop-color="#ffffff"/><stop offset="0.40" stop-color="#fffcee"/><stop offset="0.47" stop-color="#fff2bc"/><stop offset="0.56" stop-color="#ffe03e"/><stop offset="0.8" stop-color="#ffc010"/><stop offset="1" stop-color="#ef950a"/></linearGradient></defs><polygon points="14.30,0.80 18.06,10.12 28.09,10.82 20.39,17.28 22.82,27.03 14.30,21.70 5.78,27.03 8.21,17.28 0.51,10.82 10.54,10.12" fill="url(#sg79)" stroke="#e6a21c" stroke-width="0.9" stroke-linejoin="round"/></svg></span><span class="st" style="left:119.6px"><svg width="28.6" height="28" viewBox="0 0 28.6 28" ><defs><linearGradient id="sg80" x1="0" y1="0" x2="0" y2="1"><stop offset="0" stop-color="#ffffff"/><stop offset="0.45" stop-color="#f8f8f8"/><stop offset="1" stop-color="#d4d4d4"/></linearGradient></defs><polygon points="14.30,0.80 18.06,10.12 28.09,10.82 20.39,17.28 22.82,27.03 14.30,21.70 5.78,27.03 8.21,17.28 0.51,10.82 10.54,10.12" fill="url(#sg80)" stroke="#cfcfcf" stroke-width="0.9" stroke-linejoin="round"/></svg></span></div>
<div class="pill" style="left:750px;top:714px;width:96px;background:#f3bcbd"></div><div class="pi" style="left:759px;top:717.5px"><svg width="18" height="18" viewBox="0 0 18 18"><defs><clipPath id="fl81"><path d="M0,0.9 Q4.3,-0.1 8.6,0.5 Q12.9,1.1 17.2,0.1 L17.2,10.6 Q12.9,11.6 8.6,11 Q4.3,10.4 0,11.5 Z"/></clipPath></defs><g transform="translate(0.4,3.3)"><g clip-path="url(#fl81)"><g transform="scale(0.9556,0.8846)"><rect x="0" y="0" width="18" height="13" fill="#c8102e"/><rect x="5" y="0" width="2.4" height="13" fill="#ffffff"/><rect x="0" y="5.3" width="18" height="2.4" fill="#ffffff"/></g></g></g></svg></div><div style="position:absolute;left:781.87px;top:718.00px;font-size:15.99px;line-height:1;white-space:pre;transform-origin:0 0;transform:scaleX(1.0121);color:#2b2f45;">Demark</div>
<div style="position:absolute;left:912.65px;top:718.00px;font-size:16.13px;line-height:1;white-space:pre;transform-origin:0 0;transform:scaleX(0.9300);color:#1f2329;">0:0</div>
<div class="pill" style="left:998px;top:714px;width:100px;background:#93e65b"></div><div class="pi" style="left:1007px;top:717.5px"><svg width="18" height="18" viewBox="0 0 18 18" ><defs><radialGradient id="sb82" cx="0.4" cy="0.35" r="0.7"><stop offset="0" stop-color="#ffffff"/><stop offset="0.7" stop-color="#e6e6e6"/><stop offset="1" stop-color="#a9a9a9"/></radialGradient></defs><g transform="translate(0,-0.6)"><circle cx="9" cy="9" r="8.6" fill="url(#sb82)"/><polygon points="7.8,4.4 11.4,7 10.1,11.2 5.5,11.2 4.2,7" fill="#3a3a3a"/><path d="M5.2,1.4 L8,0.5 L6.8,2.6 Z M13.2,1.6 L16.2,4.4 L14.5,4.6 Z M0.7,7.2 L2.4,5 L2.3,9.3 Z M17.4,7.8 L17.2,12 L15.8,10.6 Z M6.3,17.1 L8.6,15.6 L11.6,15.6 L12.6,17 Q9,18.3 6.3,17.1 Z" fill="#333"/></g></svg></div><div style="position:absolute;left:1030.39px;top:718.00px;font-size:15.99px;line-height:1;white-space:pre;transform-origin:0 0;transform:scaleX(1.0072);color:#fff;">Group D</div>
<div class="pill" style="left:1123px;top:714px;width:100px;background:#26979e"></div><div class="pi" style="left:1132px;top:717.5px"><svg width="18" height="18" viewBox="0 0 18 18" ><defs><linearGradient id="kc83" x1="0" y1="0" x2="0" y2="1"><stop offset="0" stop-color="#c6d3e3"/><stop offset="0.25" stop-color="#8fa8c8"/><stop offset="1" stop-color="#5d7390"/></linearGradient></defs><g transform="translate(0,-1)"><rect x="-0.4" y="-0.2" width="19" height="18.6" rx="3.6" fill="url(#kc83)" stroke="#56698a" stroke-width="0.5"/><clipPath id="kc83c"><rect x="0" y="0" width="18" height="11.2"/><rect x="8.7" y="0" width="2.4" height="15"/></clipPath><text x="9.4" y="13.4" text-anchor="middle" clip-path="url(#kc83c)" font-family="Noto Sans CJK SC, Liberation Sans, sans-serif" font-weight="bold" font-size="13.6" fill="#fff">1</text></g></svg></div><div style="position:absolute;left:1154.86px;top:718.00px;font-size:15.99px;line-height:1;white-space:pre;transform-origin:0 0;transform:scaleX(1.0161);color:#fff;">Round 1</div>
<div class="pill" style="left:1254px;top:714px;width:89px;background:#e84749"></div><div class="pi" style="left:1263px;top:717.5px"><svg width="18" height="18" viewBox="0 0 18 18"><defs><clipPath id="fl84"><path d="M0,0.9 Q4.3,-0.1 8.6,0.5 Q12.9,1.1 17.2,0.1 L17.2,10.6 Q12.9,11.6 8.6,11 Q4.3,10.4 0,11.5 Z"/></clipPath></defs><g transform="translate(0.4,3.3)"><g clip-path="url(#fl84)"><g transform="scale(0.9556,0.8846)"><rect x="0" y="0" width="18" height="13" fill="#e70013"/><circle cx="9" cy="6.5" r="3.3" fill="#fff"/><circle cx="9.3" cy="6.5" r="2" fill="#e70013"/><circle cx="9.9" cy="6.5" r="1.6" fill="#fff"/></g></g></g></svg></div><div style="position:absolute;left:1286.86px;top:718.00px;font-size:15.99px;line-height:1;white-space:pre;transform-origin:0 0;transform:scaleX(0.9552);color:#fff;">Tunisia</div>
<div class="trk" style="top:725.0px"></div>
<div class="trka" style="top:725.0px;width:29.5px"></div>
<div class="thumb" style="left:1390.0px;top:718.8px"></div>
<div class="pill" style="left:1514px;top:714px;width:68px;background:#e56b30"></div><div class="pi" style="left:1523px;top:717.5px"><svg width="18" height="18" viewBox="0 0 18 18" ><g transform="translate(0,0.1)"><defs><radialGradient id="fc85" cx="0.5" cy="0.3" r="0.75"><stop offset="0" stop-color="#fff6c2"/><stop offset="0.3" stop-color="#ffe04a"/><stop offset="0.75" stop-color="#ffc21c"/><stop offset="1" stop-color="#f29a0c"/></radialGradient></defs><circle cx="8.9" cy="9.4" r="8.4" fill="url(#fc85)" stroke="#e4960e" stroke-width="0.5"/><path d="M6.2,6.9 Q7.2,7 7.1,8.6 Q6.9,9.7 6.1,9.4 Q5.6,8.2 6.2,6.9 Z" fill="#5a2e0c"/><path d="M11.6,6.9 Q12.6,7 12.5,8.6 Q12.3,9.7 11.5,9.4 Q11,8.2 11.6,6.9 Z" fill="#5a2e0c"/><rect x="4.8" y="11.6" width="8.4" height="1.1" rx="0.5" fill="#5a2e0c"/></g></svg></div><div style="position:absolute;left:1546.88px;top:718.00px;font-size:15.99px;line-height:1;white-space:pre;transform-origin:0 0;transform:scaleX(0.8824);color:#fff;">TUE</div>
<div class="pill" style="left:1616px;top:714px;width:114px;background:#e56b30"></div><div class="pi" style="left:1625px;top:717.5px"><svg width="19" height="18" viewBox="0 0 19 18" ><path d="M5.3,3.8 Q8.6,3.2 11.2,6.8 Q13.8,10 15.4,12.6 L17.8,15.2 L16.4,16 L13.2,14 Q10,13.6 8,12.6 Q5.2,11 5,7.8 Z" fill="#8cc63a"/><path d="M10.6,9.8 Q13.2,11 14.4,13.6 Q12,13.8 10.4,12.6 Z" fill="#e0a020"/><path d="M14.6,14.2 L16.2,13.6 L16.6,15.2 Z" fill="#d42020"/><path d="M16,15 L18.6,16.6 L17.6,17.6 Z" fill="#7ac83a"/><circle cx="6.8" cy="3.4" r="2.9" fill="#f4e04a"/><path d="M4.2,2.2 Q2.8,2.6 3,4.8 L4.6,4.2 Z" fill="#3a3a3a"/><circle cx="6.5" cy="2.8" r="0.75" fill="#111"/><path d="M6.6,11.6 L6.2,15.6 M5,15.6 L8.8,15.6 M9.4,12.8 L9.8,16.4" stroke="#3e4a40" stroke-width="0.9" stroke-linecap="round"/></svg></div><div style="position:absolute;left:1647.92px;top:718.00px;font-size:15.99px;line-height:1;white-space:pre;transform-origin:0 0;transform:scaleX(0.9718);color:#fff;">Early Birds</div>
<div class="pill" style="left:1748px;top:714px;width:100px;background:#e56b30"></div><div class="pi" style="left:1757px;top:717.5px"><svg width="18" height="18" viewBox="0 0 18 18" ><defs><radialGradient id="ck86" cx="0.45" cy="0.3" r="0.75"><stop offset="0" stop-color="#ffffff"/><stop offset="0.7" stop-color="#f3f3f3"/><stop offset="1" stop-color="#d2d2d2"/></radialGradient></defs><g transform="translate(0,-0.7)"><circle cx="9" cy="9.2" r="8.6" fill="#8e8e94"/><circle cx="9" cy="9.2" r="7.7" fill="url(#ck86)"/><line x1="9" y1="9.2" x2="9" y2="3" stroke="#a8a8a8" stroke-width="1" stroke-linecap="round"/><line x1="9" y1="9.2" x2="10.90" y2="12.49" stroke="#a0a0a0" stroke-width="1.2" stroke-linecap="round"/></g></svg></div><div style="position:absolute;left:1780.53px;top:718.00px;font-size:15.99px;line-height:1;white-space:pre;transform-origin:0 0;transform:scaleX(1.0462);color:#fff;">5:00 AM</div>
<div class="fd fr" style="top:702px;height:48px"></div>
<div class="row" style="top:751px;height:48px"></div>
<div class="line" style="top:799px"></div>
<div class="sq" style="top:770.0px;background:#40bdec"></div>
<div style="position:absolute;left:70.91px;top:766.00px;font-size:19.77px;line-height:1;white-space:pre;transform-origin:0 0;transform:scaleX(0.9575);color:#838ba5;">#011</div>
<div style="position:absolute;left:131.25px;top:766.00px;font-size:19.77px;line-height:1;white-space:pre;transform-origin:0 0;transform:scaleX(0.9346);color:#1f2329;">Argentina VS Saudi Arabia</div>
<div class="abs" style="left:540.5px;top:765.0px"><svg width="17" height="19" viewBox="0 0 17 19" ><defs><linearGradient id="pf87" x1="0" y1="0" x2="1" y2="0.3"><stop offset="0" stop-color="#ee7c82"/><stop offset="1" stop-color="#eb6c73"/></linearGradient></defs><path d="M2,1.2 L6.2,16.6" stroke="#ee7c82" stroke-width="1.9" stroke-linecap="round"/><path d="M0.8,1.1 Q1.6,0.2 4,0.3 Q7,0.7 9.5,1.3 Q11.6,1.6 13.1,1 Q13.9,0.9 14.1,1.8 L15.2,7.6 Q15.4,9.2 13.6,9.6 Q11.4,9.5 9.2,8.9 Q6.4,8.3 3.4,8.7 Z" fill="url(#pf87)"/></svg></div>
<div class="stars" style="top:761.5px"><span class="st" style="left:0.0px"><svg width="28.6" height="28" viewBox="0 0 28.6 28" ><defs><linearGradient id="sg88" x1="0" y1="0" x2="0" y2="1"><stop offset="0" stop-color="#ffffff"/><stop offset="0.40" stop-color="#fffcee"/><stop offset="0.47" stop-color="#fff2bc"/><stop offset="0.56" stop-color="#ffe03e"/><stop offset="0.8" stop-color="#ffc010"/><stop offset="1" stop-color="#ef950a"/></linearGradient></defs><polygon points="14.30,0.80 18.06,10.12 28.09,10.82 20.39,17.28 22.82,27.03 14.30,21.70 5.78,27.03 8.21,17.28 0.51,10.82 10.54,10.12" fill="url(#sg88)" stroke="#e6a21c" stroke-width="0.9" stroke-linejoin="round"/></svg></span><span class="st" style="left:29.9px"><svg width="28.6" height="28" viewBox="0 0 28.6 28" ><defs><linearGradient id="sg89" x1="0" y1="0" x2="0" y2="1"><stop offset="0" stop-color="#ffffff"/><stop offset="0.40" stop-color="#fffcee"/><stop offset="0.47" stop-color="#fff2bc"/><stop offset="0.56" stop-color="#ffe03e"/><stop offset="0.8" stop-color="#ffc010"/><stop offset="1" stop-color="#ef950a"/></linearGradient></defs><polygon points="14.30,0.80 18.06,10.12 28.09,10.82 20.39,17.28 22.82,27.03 14.30,21.70 5.78,27.03 8.21,17.28 0.51,10.82 10.54,10.12" fill="url(#sg89)" stroke="#e6a21c" stroke-width="0.9" stroke-linejoin="round"/></svg></span><span class="st" style="left:59.8px"><svg width="28.6" height="28" viewBox="0 0 28.6 28" ><defs><linearGradient id="sg90" x1="0" y1="0" x2="0" y2="1"><stop offset="0" stop-color="#ffffff"/><stop offset="0.40" stop-color="#fffcee"/><stop offset="0.47" stop-color="#fff2bc"/><stop offset="0.56" stop-color="#ffe03e"/><stop offset="0.8" stop-color="#ffc010"/><stop offset="1" stop-color="#ef950a"/></linearGradient></defs><polygon points="14.30,0.80 18.06,10.12 28.09,10.82 20.39,17.28 22.82,27.03 14.30,21.70 5.78,27.03 8.21,17.28 0.51,10.82 10.54,10.12" fill="url(#sg90)" stroke="#e6a21c" stroke-width="0.9" stroke-linejoin="round"/></svg></span><span class="st" style="left:89.7px"><svg width="28.6" height="28" viewBox="0 0 28.6 28" ><defs><linearGradient id="sg91" x1="0" y1="0" x2="0" y2="1"><stop offset="0" stop-color="#ffffff"/><stop offset="0.40" stop-color="#fffcee"/><stop offset="0.47" stop-color="#fff2bc"/><stop offset="0.56" stop-color="#ffe03e"/><stop offset="0.8" stop-color="#ffc010"/><stop offset="1" stop-color="#ef950a"/></linearGradient></defs><polygon points="14.30,0.80 18.06,10.12 28.09,10.82 20.39,17.28 22.82,27.03 14.30,21.70 5.78,27.03 8.21,17.28 0.51,10.82 10.54,10.12" fill="url(#sg91)" stroke="#e6a21c" stroke-width="0.9" stroke-linejoin="round"/></svg></span><span class="st" style="left:119.6px"><svg width="28.6" height="28" viewBox="0 0 28.6 28" ><defs><linearGradient id="sg92" x1="0" y1="0" x2="0" y2="1"><stop offset="0" stop-color="#ffffff"/><stop offset="0.45" stop-color="#f8f8f8"/><stop offset="1" stop-color="#d4d4d4"/></linearGradient></defs><polygon points="14.30,0.80 18.06,10.12 28.09,10.82 20.39,17.28 22.82,27.03 14.30,21.70 5.78,27.03 8.21,17.28 0.51,10.82 10.54,10.12" fill="url(#sg92)" stroke="#cfcfcf" stroke-width="0.9" stroke-linejoin="round"/></svg></span></div>
<div class="pill" style="left:743px;top:763px;width:111px;background:#9bbbdc"></div><div class="pi" style="left:752px;top:766.5px"><svg width="18" height="18" viewBox="0 0 18 18"><defs><clipPath id="fl93"><path d="M0,0.9 Q4.3,-0.1 8.6,0.5 Q12.9,1.1 17.2,0.1 L17.2,10.6 Q12.9,11.6 8.6,11 Q4.3,10.4 0,11.5 Z"/></clipPath></defs><g transform="translate(0.4,3.3)"><g clip-path="url(#fl93)"><g transform="scale(0.9556,0.8846)"><rect x="0" y="0" width="18" height="4.33" fill="#74acdf"/><rect x="0" y="4.33" width="18" height="4.34" fill="#ffffff"/><rect x="0" y="8.67" width="18" height="4.33" fill="#74acdf"/><circle cx="9" cy="6.5" r="1.2" fill="#f6b40e"/></g></g></g></svg></div><div style="position:absolute;left:776.16px;top:767.00px;font-size:15.99px;line-height:1;white-space:pre;transform-origin:0 0;transform:scaleX(1.0279);color:#2b2f45;">Argentina</div>
<div style="position:absolute;left:912.12px;top:766.00px;font-size:16.13px;line-height:1;white-space:pre;transform-origin:0 0;transform:scaleX(0.9300);color:#1f2329;">1:2</div>
<div class="pill" style="left:998px;top:763px;width:100px;background:#fec904"></div><div class="pi" style="left:1007px;top:766.5px"><svg width="18" height="18" viewBox="0 0 18 18" ><defs><radialGradient id="sb94" cx="0.4" cy="0.35" r="0.7"><stop offset="0" stop-color="#ffffff"/><stop offset="0.7" stop-color="#e6e6e6"/><stop offset="1" stop-color="#a9a9a9"/></radialGradient></defs><g transform="translate(0,-0.6)"><circle cx="9" cy="9" r="8.6" fill="url(#sb94)"/><polygon points="7.8,4.4 11.4,7 10.1,11.2 5.5,11.2 4.2,7" fill="#3a3a3a"/><path d="M5.2,1.4 L8,0.5 L6.8,2.6 Z M13.2,1.6 L16.2,4.4 L14.5,4.6 Z M0.7,7.2 L2.4,5 L2.3,9.3 Z M17.4,7.8 L17.2,12 L15.8,10.6 Z M6.3,17.1 L8.6,15.6 L11.6,15.6 L12.6,17 Q9,18.3 6.3,17.1 Z" fill="#333"/></g></svg></div><div style="position:absolute;left:1030.40px;top:767.00px;font-size:15.99px;line-height:1;white-space:pre;transform-origin:0 0;transform:scaleX(1.0051);color:#fff;">Group C</div>
<div class="pill" style="left:1123px;top:763px;width:100px;background:#26979e"></div><div class="pi" style="left:1132px;top:766.5px"><svg width="18" height="18" viewBox="0 0 18 18" ><defs><linearGradient id="kc95" x1="0" y1="0" x2="0" y2="1"><stop offset="0" stop-color="#c6d3e3"/><stop offset="0.25" stop-color="#8fa8c8"/><stop offset="1" stop-color="#5d7390"/></linearGradient></defs><g transform="translate(0,-1)"><rect x="-0.4" y="-0.2" width="19" height="18.6" rx="3.6" fill="url(#kc95)" stroke="#56698a" stroke-width="0.5"/><clipPath id="kc95c"><rect x="0" y="0" width="18" height="11.2"/><rect x="8.7" y="0" width="2.4" height="15"/></clipPath><text x="9.4" y="13.4" text-anchor="middle" clip-path="url(#kc95c)" font-family="Noto Sans CJK SC, Liberation Sans, sans-serif" font-weight="bold" font-size="13.6" fill="#fff">1</text></g></svg></div><div style="position:absolute;left:1154.86px;top:767.00px;font-size:15.99px;line-height:1;white-space:pre;transform-origin:0 0;transform:scaleX(1.0161);color:#fff;">Round 1</div>
<div class="pill" style="left:1236px;top:763px;width:125px;background:#93e65b"></div><div class="pi" style="left:1245px;top:766.5px"><svg width="18" height="18" viewBox="0 0 18 18"><defs><clipPath id="fl96"><path d="M0,0.9 Q4.3,-0.1 8.6,0.5 Q12.9,1.1 17.2,0.1 L17.2,10.6 Q12.9,11.6 8.6,11 Q4.3,10.4 0,11.5 Z"/></clipPath></defs><g transform="translate(0.4,3.3)"><g clip-path="url(#fl96)"><g transform="scale(0.9556,0.8846)"><rect x="0" y="0" width="18" height="13" fill="#006c35"/><path d="M4,5 Q9,3.5 14,5 M4,7 Q9,6 14,7" stroke="#fff" stroke-width="0.8" fill="none"/><path d="M5,9.5 L13,9.5" stroke="#fff" stroke-width="0.8"/></g></g></g></svg></div><div style="position:absolute;left:1268.49px;top:767.00px;font-size:15.99px;line-height:1;white-space:pre;transform-origin:0 0;transform:scaleX(0.9888);color:#fff;">Saudi Ara...</div>
<div class="trk" style="top:774.0px"></div>
<div class="trka" style="top:774.0px;width:13.4px"></div>
<div class="thumb" style="left:1373.9px;top:767.8px"></div>
<div class="pill" style="left:1514px;top:763px;width:68px;background:#e56b30"></div><div class="pi" style="left:1523px;top:766.5px"><svg width="18" height="18" viewBox="0 0 18 18" ><g transform="translate(0,0.1)"><defs><radialGradient id="fc97" cx="0.5" cy="0.3" r="0.75"><stop offset="0" stop-color="#fff6c2"/><stop offset="0.3" stop-color="#ffe04a"/><stop offset="0.75" stop-color="#ffc21c"/><stop offset="1" stop-color="#f29a0c"/></radialGradient></defs><circle cx="8.9" cy="9.4" r="8.4" fill="url(#fc97)" stroke="#e4960e" stroke-width="0.5"/><path d="M6.2,6.9 Q7.2,7 7.1,8.6 Q6.9,9.7 6.1,9.4 Q5.6,8.2 6.2,6.9 Z" fill="#5a2e0c"/><path d="M11.6,6.9 Q12.6,7 12.5,8.6 Q12.3,9.7 11.5,9.4 Q11,8.2 11.6,6.9 Z" fill="#5a2e0c"/><rect x="4.8" y="11.6" width="8.4" height="1.1" rx="0.5" fill="#5a2e0c"/></g></svg></div><div style="position:absolute;left:1546.88px;top:767.00px;font-size:15.99px;line-height:1;white-space:pre;transform-origin:0 0;transform:scaleX(0.8824);color:#fff;">TUE</div>
<div class="pill" style="left:1611px;top:763px;width:125px;background:#f3bcbd"></div><div class="pi" style="left:1620px;top:766.5px"><svg width="18" height="18" viewBox="0 0 18 18" ><defs><radialGradient id="ht98" cx="0.35" cy="0.3" r="0.8"><stop offset="0" stop-color="#ff7a7a"/><stop offset="0.55" stop-color="#ee2a2e"/><stop offset="1" stop-color="#b9131a"/></radialGradient></defs><path d="M9,17 Q0.6,11.2 0.5,6.1 Q0.6,1.4 4.8,1.3 Q7.5,1.3 9,4.1 Q10.5,1.3 13.2,1.3 Q17.4,1.4 17.5,6.1 Q17.4,11.2 9,17 Z" fill="url(#ht98)"/><ellipse cx="4.6" cy="4.6" rx="1.6" ry="1" fill="#fff" opacity="0.55" transform="rotate(-30 4.6 4.6)"/></svg></div><div style="position:absolute;left:1643.42px;top:767.00px;font-size:15.99px;line-height:1;white-space:pre;transform-origin:0 0;transform:scaleX(0.9812);color:#2b2f45;">Cherished...</div>
<div class="pill" style="left:1748px;top:763px;width:100px;background:#93e65b"></div><div class="pi" style="left:1757px;top:766.5px"><svg width="18" height="18" viewBox="0 0 18 18" ><defs><radialGradient id="ck99" cx="0.45" cy="0.3" r="0.75"><stop offset="0" stop-color="#ffffff"/><stop offset="0.7" stop-color="#f3f3f3"/><stop offset="1" stop-color="#d2d2d2"/></radialGradient></defs><g transform="translate(0,-0.7)"><circle cx="9" cy="9.2" r="8.6" fill="#8e8e94"/><circle cx="9" cy="9.2" r="7.7" fill="url(#ck99)"/><line x1="9" y1="9.2" x2="9" y2="3" stroke="#a8a8a8" stroke-width="1" stroke-linecap="round"/><line x1="9" y1="9.2" x2="12.29" y2="7.30" stroke="#a0a0a0" stroke-width="1.2" stroke-linecap="round"/></g></svg></div><div style="position:absolute;left:1780.36px;top:767.00px;font-size:15.99px;line-height:1;white-space:pre;transform-origin:0 0;transform:scaleX(1.0492);color:#fff;">2:00 AM</div>
<div class="fd fr" style="top:751px;height:48px"></div>
<div class="abs" style="left:10px;top:815px"><svg width="15" height="15" viewBox="0 0 15 15"><path d="M7.5,0.5 V14.5 M0.5,7.5 H14.5" stroke="#9ea6bd" stroke-width="1.5"/></svg></div>
<div style="position:absolute;left:34.10px;top:814.00px;font-size:16.28px;line-height:1;white-space:pre;transform-origin:0 0;transform:scaleX(0.9660);color:#a0a8be;">New Task</div>
<div id="sb"></div><div id="sbt"></div>
</body></html>
